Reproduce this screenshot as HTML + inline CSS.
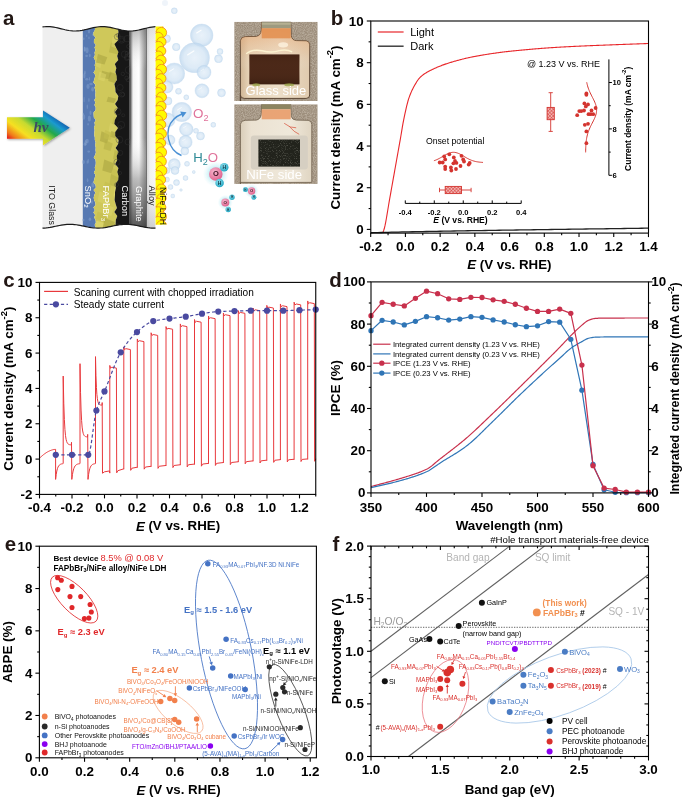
<!DOCTYPE html>
<html><head><meta charset="utf-8"><style>
html,body{margin:0;padding:0;background:#fff;}
body{width:685px;height:799px;overflow:hidden;}
svg{display:block;font-family:"Liberation Sans", sans-serif;will-change:transform;}
</style></head><body>
<svg width="685" height="799" viewBox="0 0 685 799">
<defs>
<pattern id="hatch" width="2.4" height="2.4" patternUnits="userSpaceOnUse" patternTransform="rotate(45)"><rect width="2.4" height="2.4" fill="#f2b4b2"/><line x1="0" y1="0" x2="0" y2="2.4" stroke="#d4342f" stroke-width="0.9"/><line x1="0" y1="0" x2="2.4" y2="0" stroke="#d4342f" stroke-width="0.9"/></pattern>
<linearGradient id="graphite" x1="0" x2="1" y1="0" y2="0"><stop offset="0" stop-color="#2a2a2a"/><stop offset="0.2" stop-color="#f4f4f4"/><stop offset="0.55" stop-color="#ffffff"/><stop offset="0.93" stop-color="#8a8a8a"/><stop offset="1" stop-color="#a0a0a0"/></linearGradient>
<linearGradient id="graphiteV" gradientUnits="userSpaceOnUse" x1="0" x2="0" y1="25" y2="230"><stop offset="0" stop-color="#6a6a6a" stop-opacity="0.55"/><stop offset="0.22" stop-color="#ffffff" stop-opacity="0"/><stop offset="0.55" stop-color="#ffffff" stop-opacity="0"/><stop offset="0.75" stop-color="#8a8a8a" stop-opacity="0.55"/><stop offset="1" stop-color="#3a3a3a" stop-opacity="0.9"/></linearGradient>
<linearGradient id="alloy" x1="0" x2="1" y1="0" y2="0"><stop offset="0" stop-color="#d6d6d6"/><stop offset="0.35" stop-color="#f2f2f2"/><stop offset="1" stop-color="#f8f8f8"/></linearGradient>
<linearGradient id="rainbow" gradientUnits="userSpaceOnUse" x1="7" y1="138.7" x2="41.8" y2="92.3"><stop offset="0" stop-color="#e3101a"/><stop offset="0.1" stop-color="#f07a1c"/><stop offset="0.25" stop-color="#f6e021"/><stop offset="0.4" stop-color="#c6da30"/><stop offset="0.55" stop-color="#22a84a"/><stop offset="0.7" stop-color="#1a9ad0"/><stop offset="0.8" stop-color="#1062b0"/><stop offset="1" stop-color="#0a3f85"/></linearGradient>
<radialGradient id="bubble" cx="0.5" cy="0.5" r="0.5"><stop offset="0" stop-color="#e4eff9"/><stop offset="0.7" stop-color="#d5e6f5"/><stop offset="1" stop-color="#bcd6ee"/></radialGradient>
<radialGradient id="glow" cx="0.5" cy="0.5" r="0.5"><stop offset="0.4" stop-color="#9fe4ef" stop-opacity="0.7"/><stop offset="1" stop-color="#c8f0f6" stop-opacity="0"/></radialGradient>
<radialGradient id="opink" cx="0.4" cy="0.35" r="0.65"><stop offset="0" stop-color="#f8b8d0"/><stop offset="1" stop-color="#e0638e"/></radialGradient>
<radialGradient id="hcyan" cx="0.4" cy="0.35" r="0.65"><stop offset="0" stop-color="#8fe0ee"/><stop offset="1" stop-color="#24a8c4"/></radialGradient>
<linearGradient id="epoxy1" x1="0" x2="1" y1="0" y2="0"><stop offset="0" stop-color="#cfb595"/><stop offset="0.12" stop-color="#e6d2b6"/><stop offset="0.55" stop-color="#eddfc9"/><stop offset="1" stop-color="#e0caae"/></linearGradient>
<linearGradient id="epoxy2" x1="0" x2="1" y1="0" y2="0"><stop offset="0" stop-color="#d9cdb8"/><stop offset="0.15" stop-color="#ebe2d2"/><stop offset="0.7" stop-color="#efe8da"/><stop offset="1" stop-color="#e0d5c2"/></linearGradient>
<linearGradient id="brownV" x1="0" x2="0" y1="0" y2="1"><stop offset="0" stop-color="#3a1c0e" stop-opacity="0.4"/><stop offset="0.5" stop-color="#5a341e" stop-opacity="0"/><stop offset="1" stop-color="#2a140a" stop-opacity="0.4"/></linearGradient>
<filter id="noise" x="0" y="0" width="1" height="1"><feTurbulence type="fractalNoise" baseFrequency="0.9" numOctaves="2" seed="3"/><feColorMatrix type="matrix" values="0 0 0 0 0.78  0 0 0 0 0.72  0 0 0 0 0.62  0 0 0 1.6 -0.5"/><feComposite in2="SourceGraphic" operator="in"/></filter>
<filter id="noise2" x="0" y="0" width="1" height="1"><feTurbulence type="fractalNoise" baseFrequency="1.4" numOctaves="1" seed="5"/><feColorMatrix type="matrix" values="0 0 0 0 0.75  0 0 0 0 0.75  0 0 0 0 0.65  0 0 0 3 -1.6"/><feComposite in2="SourceGraphic" operator="in"/></filter>
<filter id="shadow" x="-0.2" y="-0.2" width="1.4" height="1.4"><feDropShadow dx="0.8" dy="1" stdDeviation="0.8" flood-color="#000" flood-opacity="0.35"/></filter>
<linearGradient id="peachV" gradientUnits="objectBoundingBox" x1="0" x2="0" y1="0" y2="1"><stop offset="0.1" stop-color="#e49a62" stop-opacity="0.55"/><stop offset="0.4" stop-color="#e8b080" stop-opacity="0.15"/><stop offset="0.6" stop-color="#ffffff" stop-opacity="0"/></linearGradient>
<linearGradient id="alloyV" gradientUnits="userSpaceOnUse" x1="0" x2="0" y1="25" y2="230"><stop offset="0" stop-color="#909090" stop-opacity="0.25"/><stop offset="0.2" stop-color="#ffffff" stop-opacity="0"/><stop offset="0.7" stop-color="#ffffff" stop-opacity="0"/><stop offset="1" stop-color="#808080" stop-opacity="0.35"/></linearGradient>
</defs>
<text x="3.00" y="24.80" font-size="20.5" fill="#231815" text-anchor="start" font-weight="bold" dominant-baseline="auto" >a</text>
<clipPath id="stack"><path d="M42.50,26.95 L44.38,26.74 L46.27,26.62 L48.15,26.61 L50.03,26.69 L51.92,26.87 L53.80,27.15 L55.68,27.49 L57.57,27.90 L59.45,28.35 L61.33,28.82 L63.22,29.29 L65.10,29.74 L66.98,30.14 L68.87,30.48 L70.75,30.75 L72.63,30.92 L74.52,31.00 L76.40,30.97 L78.28,30.85 L80.17,30.63 L82.05,30.32 L83.93,29.95 L85.82,29.52 L87.70,29.06 L89.58,28.59 L91.47,28.13 L93.35,27.70 L95.23,27.32 L97.12,27.00 L99.00,26.77 L100.88,26.64 L102.77,26.60 L104.65,26.67 L106.53,26.83 L108.42,27.08 L110.30,27.42 L112.18,27.81 L114.07,28.26 L115.95,28.72 L117.83,29.20 L119.72,29.65 L121.60,30.06 L123.48,30.42 L125.37,30.70 L127.25,30.89 L129.13,30.99 L131.02,30.99 L132.90,30.88 L134.78,30.68 L136.67,30.39 L138.55,30.03 L140.43,29.61 L142.32,29.16 L144.20,28.69 L146.08,28.22 L147.97,27.78 L149.85,27.39 L151.73,27.06 L153.62,26.81 L155.50,26.66 L155.50,228.07 L153.62,228.10 L151.73,228.04 L149.85,227.90 L147.97,227.68 L146.08,227.40 L144.20,227.06 L142.32,226.69 L140.43,226.29 L138.55,225.89 L136.67,225.51 L134.78,225.15 L132.90,224.84 L131.02,224.59 L129.13,224.42 L127.25,224.32 L125.37,224.30 L123.48,224.38 L121.60,224.53 L119.72,224.75 L117.83,225.04 L115.95,225.39 L114.07,225.76 L112.18,226.16 L110.30,226.56 L108.42,226.94 L106.53,227.29 L104.65,227.60 L102.77,227.83 L100.88,228.00 L99.00,228.09 L97.12,228.09 L95.23,228.01 L93.35,227.85 L91.47,227.61 L89.58,227.31 L87.70,226.97 L85.82,226.58 L83.93,226.19 L82.05,225.79 L80.17,225.41 L78.28,225.06 L76.40,224.77 L74.52,224.54 L72.63,224.38 L70.75,224.31 L68.87,224.32 L66.98,224.41 L65.10,224.58 L63.22,224.82 L61.33,225.13 L59.45,225.48 L57.57,225.87 L55.68,226.27 L53.80,226.66 L51.92,227.04 L50.03,227.38 L48.15,227.67 L46.27,227.89 L44.38,228.03 L42.50,228.10 Z"/></clipPath>
<g clip-path="url(#stack)">
<rect x="42" y="20" width="42" height="215" fill="#efefef"/>
<path d="M82.8,20 L93.92,20.00 L94.71,22.50 L94.26,25.00 L94.87,27.50 L94.93,30.00 L93.47,32.50 L93.33,35.00 L95.48,37.50 L93.97,40.00 L93.91,42.50 L95.89,45.00 L94.52,47.50 L95.47,50.00 L94.54,52.50 L94.96,55.00 L93.69,57.50 L94.95,60.00 L95.56,62.50 L94.66,65.00 L95.23,67.50 L95.05,70.00 L93.47,72.50 L95.27,75.00 L94.84,77.50 L94.08,80.00 L93.38,82.50 L95.55,85.00 L94.53,87.50 L95.17,90.00 L95.58,92.50 L95.16,95.00 L95.69,97.50 L94.33,100.00 L95.38,102.50 L94.46,105.00 L95.73,107.50 L95.59,110.00 L93.55,112.50 L93.65,115.00 L93.86,117.50 L95.81,120.00 L94.43,122.50 L94.93,125.00 L94.08,127.50 L94.62,130.00 L94.30,132.50 L94.21,135.00 L94.82,137.50 L94.82,140.00 L95.65,142.50 L95.07,145.00 L95.72,147.50 L95.53,150.00 L95.88,152.50 L95.05,155.00 L93.72,157.50 L95.54,160.00 L95.81,162.50 L95.65,165.00 L94.78,167.50 L95.16,170.00 L93.85,172.50 L95.46,175.00 L94.79,177.50 L94.04,180.00 L93.46,182.50 L95.52,185.00 L95.87,187.50 L93.53,190.00 L95.38,192.50 L94.37,195.00 L93.69,197.50 L94.06,200.00 L95.30,202.50 L95.57,205.00 L93.41,207.50 L94.90,210.00 L93.42,212.50 L95.17,215.00 L94.16,217.50 L95.59,220.00 L95.85,222.50 L94.61,225.00 L95.90,227.50 L94.11,230.00 L93.50,232.50 L94.86,235.00 L82.8,235 Z" fill="#5779b2"/>
<ellipse cx="86.6" cy="55.9" rx="1.4" ry="1.1" fill="#8aa6d0" opacity="0.45"/>
<ellipse cx="88.9" cy="100.0" rx="0.7" ry="2.0" fill="#8aa6d0" opacity="0.45"/>
<ellipse cx="83.4" cy="113.9" rx="0.7" ry="1.2" fill="#8aa6d0" opacity="0.45"/>
<ellipse cx="87.7" cy="194.5" rx="0.7" ry="1.4" fill="#8aa6d0" opacity="0.45"/>
<ellipse cx="89.9" cy="219.3" rx="1.3" ry="1.8" fill="#8aa6d0" opacity="0.45"/>
<ellipse cx="93.7" cy="34.5" rx="1.6" ry="1.6" fill="#8aa6d0" opacity="0.45"/>
<ellipse cx="84.6" cy="49.1" rx="1.0" ry="2.6" fill="#8aa6d0" opacity="0.45"/>
<ellipse cx="85.0" cy="144.2" rx="1.4" ry="1.7" fill="#8aa6d0" opacity="0.45"/>
<ellipse cx="89.0" cy="37.9" rx="0.7" ry="1.4" fill="#8aa6d0" opacity="0.45"/>
<ellipse cx="90.5" cy="112.7" rx="1.0" ry="2.2" fill="#8aa6d0" opacity="0.45"/>
<ellipse cx="88.0" cy="86.5" rx="1.6" ry="2.4" fill="#8aa6d0" opacity="0.45"/>
<ellipse cx="85.7" cy="142.8" rx="1.2" ry="2.8" fill="#8aa6d0" opacity="0.45"/>
<ellipse cx="91.0" cy="84.0" rx="1.8" ry="1.2" fill="#8aa6d0" opacity="0.45"/>
<ellipse cx="87.6" cy="180.2" rx="0.8" ry="2.0" fill="#8aa6d0" opacity="0.45"/>
<ellipse cx="83.4" cy="162.0" rx="1.5" ry="2.1" fill="#8aa6d0" opacity="0.45"/>
<ellipse cx="92.6" cy="89.3" rx="1.4" ry="2.2" fill="#8aa6d0" opacity="0.45"/>
<ellipse cx="89.4" cy="118.5" rx="1.6" ry="2.9" fill="#8aa6d0" opacity="0.45"/>
<ellipse cx="88.2" cy="161.2" rx="0.7" ry="2.4" fill="#8aa6d0" opacity="0.45"/>
<ellipse cx="90.1" cy="228.6" rx="1.6" ry="1.6" fill="#8aa6d0" opacity="0.45"/>
<ellipse cx="87.2" cy="162.1" rx="0.6" ry="1.9" fill="#8aa6d0" opacity="0.45"/>
<ellipse cx="84.8" cy="49.0" rx="0.7" ry="2.5" fill="#8aa6d0" opacity="0.45"/>
<ellipse cx="84.4" cy="75.8" rx="1.1" ry="2.7" fill="#8aa6d0" opacity="0.45"/>
<ellipse cx="83.9" cy="117.1" rx="1.3" ry="2.8" fill="#8aa6d0" opacity="0.45"/>
<ellipse cx="92.0" cy="202.1" rx="0.9" ry="1.8" fill="#8aa6d0" opacity="0.45"/>
<ellipse cx="86.9" cy="206.3" rx="1.7" ry="1.3" fill="#8aa6d0" opacity="0.45"/>
<ellipse cx="84.9" cy="72.6" rx="0.9" ry="2.0" fill="#8aa6d0" opacity="0.45"/>
<ellipse cx="89.5" cy="78.9" rx="0.6" ry="1.8" fill="#8aa6d0" opacity="0.45"/>
<ellipse cx="87.1" cy="141.1" rx="1.7" ry="2.4" fill="#8aa6d0" opacity="0.45"/>
<ellipse cx="88.7" cy="151.6" rx="1.4" ry="1.1" fill="#8aa6d0" opacity="0.45"/>
<ellipse cx="92.9" cy="184.9" rx="1.6" ry="2.6" fill="#8aa6d0" opacity="0.45"/>
<ellipse cx="87.3" cy="106.8" rx="0.7" ry="2.3" fill="#8aa6d0" opacity="0.45"/>
<ellipse cx="83.7" cy="38.8" rx="0.9" ry="1.3" fill="#8aa6d0" opacity="0.45"/>
<ellipse cx="86.7" cy="35.8" rx="0.6" ry="1.3" fill="#8aa6d0" opacity="0.45"/>
<ellipse cx="84.1" cy="99.5" rx="0.6" ry="2.7" fill="#8aa6d0" opacity="0.45"/>
<ellipse cx="89.8" cy="55.5" rx="0.9" ry="1.7" fill="#8aa6d0" opacity="0.45"/>
<ellipse cx="87.0" cy="50.2" rx="1.6" ry="3.0" fill="#8aa6d0" opacity="0.45"/>
<ellipse cx="88.1" cy="124.2" rx="0.7" ry="1.2" fill="#8aa6d0" opacity="0.45"/>
<ellipse cx="86.8" cy="79.3" rx="1.6" ry="1.3" fill="#8aa6d0" opacity="0.45"/>
<ellipse cx="83.3" cy="220.0" rx="1.2" ry="1.3" fill="#8aa6d0" opacity="0.45"/>
<ellipse cx="89.0" cy="30.5" rx="1.2" ry="3.0" fill="#8aa6d0" opacity="0.45"/>
<path d="M93.92,20.00 L94.71,22.50 L94.26,25.00 L94.87,27.50 L94.93,30.00 L93.47,32.50 L93.33,35.00 L95.48,37.50 L93.97,40.00 L93.91,42.50 L95.89,45.00 L94.52,47.50 L95.47,50.00 L94.54,52.50 L94.96,55.00 L93.69,57.50 L94.95,60.00 L95.56,62.50 L94.66,65.00 L95.23,67.50 L95.05,70.00 L93.47,72.50 L95.27,75.00 L94.84,77.50 L94.08,80.00 L93.38,82.50 L95.55,85.00 L94.53,87.50 L95.17,90.00 L95.58,92.50 L95.16,95.00 L95.69,97.50 L94.33,100.00 L95.38,102.50 L94.46,105.00 L95.73,107.50 L95.59,110.00 L93.55,112.50 L93.65,115.00 L93.86,117.50 L95.81,120.00 L94.43,122.50 L94.93,125.00 L94.08,127.50 L94.62,130.00 L94.30,132.50 L94.21,135.00 L94.82,137.50 L94.82,140.00 L95.65,142.50 L95.07,145.00 L95.72,147.50 L95.53,150.00 L95.88,152.50 L95.05,155.00 L93.72,157.50 L95.54,160.00 L95.81,162.50 L95.65,165.00 L94.78,167.50 L95.16,170.00 L93.85,172.50 L95.46,175.00 L94.79,177.50 L94.04,180.00 L93.46,182.50 L95.52,185.00 L95.87,187.50 L93.53,190.00 L95.38,192.50 L94.37,195.00 L93.69,197.50 L94.06,200.00 L95.30,202.50 L95.57,205.00 L93.41,207.50 L94.90,210.00 L93.42,212.50 L95.17,215.00 L94.16,217.50 L95.59,220.00 L95.85,222.50 L94.61,225.00 L95.90,227.50 L94.11,230.00 L93.50,232.50 L94.86,235.00 L116.42,232.00 L117.90,228.00 L115.66,224.00 L115.79,220.00 L117.28,216.00 L114.31,212.00 L116.95,208.00 L115.63,204.00 L114.59,200.00 L114.94,196.00 L115.03,192.00 L115.89,188.00 L115.61,184.00 L118.23,180.00 L118.55,176.00 L117.34,172.00 L118.44,168.00 L115.20,164.00 L117.28,160.00 L116.67,156.00 L118.53,152.00 L115.57,148.00 L118.14,144.00 L118.62,140.00 L115.25,136.00 L115.22,132.00 L118.13,128.00 L114.31,124.00 L114.86,120.00 L117.02,116.00 L114.91,112.00 L117.81,108.00 L115.00,104.00 L117.67,100.00 L118.33,96.00 L115.53,92.00 L115.25,88.00 L114.36,84.00 L116.83,80.00 L116.69,76.00 L115.38,72.00 L116.36,68.00 L114.80,64.00 L118.26,60.00 L117.16,56.00 L118.45,52.00 L116.35,48.00 L114.43,44.00 L118.36,40.00 L117.56,36.00 L118.45,32.00 L117.80,28.00 L117.56,24.00 L117.04,20.00 Z" fill="#cfc85a"/>
<polygon points="112.3,167.7 120.4,171.7 117.9,181.0 110.6,178.3" fill="#c2bb4d" opacity="0.55"/>
<polygon points="102.1,70.7 111.8,73.3 108.9,79.3 100.2,77.6" fill="#a8a240" opacity="0.55"/>
<polygon points="99.5,191.4 109.3,195.1 106.3,203.9 97.5,201.4" fill="#ddd56c" opacity="0.55"/>
<polygon points="109.8,71.5 117.8,75.0 115.4,83.3 108.2,81.0" fill="#a8a240" opacity="0.55"/>
<polygon points="114.8,187.0 121.3,190.4 119.4,198.5 113.5,196.2" fill="#e4dc78" opacity="0.55"/>
<polygon points="114.1,116.7 124.9,119.4 121.6,125.6 112.0,123.8" fill="#c2bb4d" opacity="0.55"/>
<polygon points="99.4,71.5 106.4,74.5 104.3,81.4 98.0,79.4" fill="#ddd56c" opacity="0.55"/>
<polygon points="114.7,150.1 122.6,153.5 120.2,161.3 113.1,159.1" fill="#b5ae45" opacity="0.55"/>
<polygon points="111.0,42.4 121.5,46.1 118.3,54.6 108.9,52.2" fill="#b5ae45" opacity="0.55"/>
<polygon points="110.0,123.0 117.6,126.3 115.3,134.1 108.5,131.9" fill="#ddd56c" opacity="0.55"/>
<polygon points="96.7,219.0 104.5,222.5 102.2,230.9 95.2,228.5" fill="#e4dc78" opacity="0.55"/>
<polygon points="96.7,57.6 101.9,60.8 100.3,68.3 95.7,66.1" fill="#ddd56c" opacity="0.55"/>
<polygon points="104.3,159.5 114.3,163.6 111.3,173.3 102.3,170.5" fill="#a8a240" opacity="0.55"/>
<polygon points="108.1,96.8 116.4,98.7 113.9,103.0 106.5,101.8" fill="#a8a240" opacity="0.55"/>
<polygon points="111.0,173.9 119.1,177.9 116.7,187.4 109.4,184.7" fill="#b5ae45" opacity="0.55"/>
<polygon points="103.7,203.7 108.8,206.0 107.3,211.4 102.6,209.9" fill="#ddd56c" opacity="0.55"/>
<polygon points="105.0,181.6 111.6,184.4 109.6,190.9 103.7,189.0" fill="#c2bb4d" opacity="0.55"/>
<polygon points="97.6,211.6 108.0,214.9 104.9,222.9 95.5,220.6" fill="#c2bb4d" opacity="0.55"/>
<polygon points="111.3,130.9 117.1,133.1 115.4,138.2 110.1,136.7" fill="#a8a240" opacity="0.55"/>
<polygon points="105.2,203.9 113.9,207.6 111.3,216.1 103.5,213.7" fill="#ddd56c" opacity="0.55"/>
<polygon points="98.0,54.0 107.3,57.2 104.5,64.5 96.1,62.4" fill="#a8a240" opacity="0.55"/>
<polygon points="101.5,131.3 109.4,134.9 107.0,143.5 99.9,141.0" fill="#a8a240" opacity="0.55"/>
<polygon points="112.7,36.6 119.3,40.3 117.3,48.8 111.3,46.4" fill="#ddd56c" opacity="0.55"/>
<polygon points="105.2,140.2 112.8,143.4 110.5,151.1 103.6,148.9" fill="#b5ae45" opacity="0.55"/>
<polygon points="105.1,130.0 112.8,133.1 110.5,140.3 103.6,138.2" fill="#c2bb4d" opacity="0.55"/>
<polygon points="104.6,218.0 114.8,222.1 111.7,231.5 102.5,228.8" fill="#a8a240" opacity="0.55"/>
<path d="M117.04,20.00 L117.56,24.00 L117.80,28.00 L118.45,32.00 L117.56,36.00 L118.36,40.00 L114.43,44.00 L116.35,48.00 L118.45,52.00 L117.16,56.00 L118.26,60.00 L114.80,64.00 L116.36,68.00 L115.38,72.00 L116.69,76.00 L116.83,80.00 L114.36,84.00 L115.25,88.00 L115.53,92.00 L118.33,96.00 L117.67,100.00 L115.00,104.00 L117.81,108.00 L114.91,112.00 L117.02,116.00 L114.86,120.00 L114.31,124.00 L118.13,128.00 L115.22,132.00 L115.25,136.00 L118.62,140.00 L118.14,144.00 L115.57,148.00 L118.53,152.00 L116.67,156.00 L117.28,160.00 L115.20,164.00 L118.44,168.00 L117.34,172.00 L118.55,176.00 L118.23,180.00 L115.61,184.00 L115.89,188.00 L115.03,192.00 L114.94,196.00 L114.59,200.00 L115.63,204.00 L116.95,208.00 L114.31,212.00 L117.28,216.00 L115.79,220.00 L115.66,224.00 L117.90,228.00 L116.42,232.00 L129.6,235 L129.6,20 Z" fill="#171717"/>
<circle cx="119.4" cy="139.7" r="3.4" fill="none" stroke="#3a3a3a" stroke-width="0.5" opacity="0.7"/>
<circle cx="126.9" cy="53.1" r="1.7" fill="none" stroke="#3a3a3a" stroke-width="0.5" opacity="0.7"/>
<circle cx="121.7" cy="39.9" r="2.0" fill="none" stroke="#3a3a3a" stroke-width="0.5" opacity="0.7"/>
<circle cx="117.0" cy="162.2" r="3.1" fill="none" stroke="#3a3a3a" stroke-width="0.5" opacity="0.7"/>
<circle cx="127.7" cy="56.7" r="2.9" fill="none" stroke="#3a3a3a" stroke-width="0.5" opacity="0.7"/>
<circle cx="124.6" cy="54.3" r="3.3" fill="none" stroke="#3a3a3a" stroke-width="0.5" opacity="0.7"/>
<circle cx="128.6" cy="70.0" r="3.4" fill="none" stroke="#3a3a3a" stroke-width="0.5" opacity="0.7"/>
<circle cx="121.2" cy="124.9" r="3.5" fill="none" stroke="#3a3a3a" stroke-width="0.5" opacity="0.7"/>
<circle cx="126.8" cy="58.1" r="2.4" fill="none" stroke="#3a3a3a" stroke-width="0.5" opacity="0.7"/>
<circle cx="122.7" cy="94.5" r="1.9" fill="none" stroke="#3a3a3a" stroke-width="0.5" opacity="0.7"/>
<circle cx="120.1" cy="173.0" r="1.5" fill="none" stroke="#3a3a3a" stroke-width="0.5" opacity="0.7"/>
<circle cx="123.2" cy="115.3" r="1.5" fill="none" stroke="#3a3a3a" stroke-width="0.5" opacity="0.7"/>
<circle cx="120.3" cy="152.9" r="2.5" fill="none" stroke="#3a3a3a" stroke-width="0.5" opacity="0.7"/>
<circle cx="116.8" cy="226.9" r="3.1" fill="none" stroke="#3a3a3a" stroke-width="0.5" opacity="0.7"/>
<circle cx="128.6" cy="46.5" r="2.0" fill="none" stroke="#3a3a3a" stroke-width="0.5" opacity="0.7"/>
<circle cx="116.5" cy="184.7" r="2.0" fill="none" stroke="#3a3a3a" stroke-width="0.5" opacity="0.7"/>
<circle cx="117.7" cy="111.6" r="3.3" fill="none" stroke="#3a3a3a" stroke-width="0.5" opacity="0.7"/>
<circle cx="126.6" cy="78.0" r="1.8" fill="none" stroke="#3a3a3a" stroke-width="0.5" opacity="0.7"/>
<circle cx="127.9" cy="142.0" r="2.9" fill="none" stroke="#3a3a3a" stroke-width="0.5" opacity="0.7"/>
<circle cx="117.2" cy="36.8" r="2.9" fill="none" stroke="#3a3a3a" stroke-width="0.5" opacity="0.7"/>
<circle cx="121.5" cy="39.8" r="3.4" fill="none" stroke="#3a3a3a" stroke-width="0.5" opacity="0.7"/>
<circle cx="124.2" cy="189.3" r="1.7" fill="none" stroke="#3a3a3a" stroke-width="0.5" opacity="0.7"/>
<circle cx="127.1" cy="38.7" r="3.2" fill="none" stroke="#3a3a3a" stroke-width="0.5" opacity="0.7"/>
<circle cx="121.9" cy="94.5" r="2.6" fill="none" stroke="#3a3a3a" stroke-width="0.5" opacity="0.7"/>
<circle cx="128.0" cy="79.9" r="1.8" fill="none" stroke="#3a3a3a" stroke-width="0.5" opacity="0.7"/>
<circle cx="122.8" cy="73.9" r="1.7" fill="none" stroke="#3a3a3a" stroke-width="0.5" opacity="0.7"/>
<circle cx="118.1" cy="35.3" r="1.9" fill="none" stroke="#3a3a3a" stroke-width="0.5" opacity="0.7"/>
<circle cx="120.1" cy="87.5" r="3.0" fill="none" stroke="#3a3a3a" stroke-width="0.5" opacity="0.7"/>
<circle cx="119.8" cy="127.5" r="1.9" fill="none" stroke="#3a3a3a" stroke-width="0.5" opacity="0.7"/>
<circle cx="120.5" cy="28.7" r="2.0" fill="none" stroke="#3a3a3a" stroke-width="0.5" opacity="0.7"/>
<rect x="129.6" y="20" width="17" height="215" fill="url(#graphite)"/>
<rect x="129.6" y="20" width="17" height="215" fill="url(#graphiteV)"/>
<rect x="146.3" y="20" width="0.8" height="215" fill="#555"/>
<rect x="147.1" y="20" width="8.6" height="215" fill="url(#alloy)"/>
<rect x="147.1" y="20" width="8.6" height="215" fill="url(#alloyV)"/>
</g>
<polyline points="42.50,26.95 44.38,26.74 46.27,26.62 48.15,26.61 50.03,26.69 51.92,26.87 53.80,27.15 55.68,27.49 57.57,27.90 59.45,28.35 61.33,28.82 63.22,29.29 65.10,29.74 66.98,30.14 68.87,30.48 70.75,30.75 72.63,30.92 74.52,31.00 76.40,30.97 78.28,30.85 80.17,30.63 82.05,30.32 83.93,29.95 85.82,29.52 87.70,29.06 89.58,28.59 91.47,28.13 93.35,27.70 95.23,27.32 97.12,27.00 99.00,26.77 100.88,26.64 102.77,26.60 104.65,26.67 106.53,26.83 108.42,27.08 110.30,27.42 112.18,27.81 114.07,28.26 115.95,28.72 117.83,29.20 119.72,29.65 121.60,30.06 123.48,30.42 125.37,30.70 127.25,30.89 129.13,30.99 131.02,30.99 132.90,30.88 134.78,30.68 136.67,30.39 138.55,30.03 140.43,29.61 142.32,29.16 144.20,28.69 146.08,28.22 147.97,27.78 149.85,27.39 151.73,27.06 153.62,26.81 155.50,26.66" fill="none" stroke="#1a1a1a" stroke-width="1.2" stroke-linejoin="round" />
<polyline points="42.50,228.10 44.38,228.03 46.27,227.89 48.15,227.67 50.03,227.38 51.92,227.04 53.80,226.66 55.68,226.27 57.57,225.87 59.45,225.48 61.33,225.13 63.22,224.82 65.10,224.58 66.98,224.41 68.87,224.32 70.75,224.31 72.63,224.38 74.52,224.54 76.40,224.77 78.28,225.06 80.17,225.41 82.05,225.79 83.93,226.19 85.82,226.58 87.70,226.97 89.58,227.31 91.47,227.61 93.35,227.85 95.23,228.01 97.12,228.09 99.00,228.09 100.88,228.00 102.77,227.83 104.65,227.60 106.53,227.29 108.42,226.94 110.30,226.56 112.18,226.16 114.07,225.76 115.95,225.39 117.83,225.04 119.72,224.75 121.60,224.53 123.48,224.38 125.37,224.30 127.25,224.32 129.13,224.42 131.02,224.59 132.90,224.84 134.78,225.15 136.67,225.51 138.55,225.89 140.43,226.29 142.32,226.69 144.20,227.06 146.08,227.40 147.97,227.68 149.85,227.90 151.73,228.04 153.62,228.10 155.50,228.07" fill="none" stroke="#1a1a1a" stroke-width="1.2" stroke-linejoin="round" />
<text x="52.4" y="185.2" font-size="8.9" fill="#222" dominant-baseline="central" transform="rotate(90 52.4 185.2)">ITO Glass</text>
<text x="88.2" y="185.6" font-size="9.3" fill="#ffffff" dominant-baseline="central" transform="rotate(90 88.2 185.6)">SnO<tspan dy="2.60" font-size="6.05">2</tspan><tspan dy="-2.60">​</tspan></text>
<text x="105.6" y="185.6" font-size="9.3" fill="#ffffff" dominant-baseline="central" transform="rotate(90 105.6 185.6)">FAPbBr<tspan dy="2.60" font-size="6.05">3</tspan><tspan dy="-2.60">​</tspan></text>
<text x="125.3" y="185.6" font-size="9.3" fill="#ffffff" dominant-baseline="central" transform="rotate(90 125.3 185.6)">Carbon</text>
<text x="138.6" y="186.0" font-size="9.3" fill="#ffffff" dominant-baseline="central" transform="rotate(90 138.6 186.0)">Graphite</text>
<text x="151.8" y="185.6" font-size="9.3" fill="#222" dominant-baseline="central" transform="rotate(90 151.8 185.6)">Alloy</text>
<circle cx="165" cy="3" r="3" fill="#dfeaf5" opacity="0.5"/>
<circle cx="201.7" cy="35.3" r="11.3" fill="url(#bubble)" stroke="#bcd5ec" stroke-width="0.4" opacity="0.8"/>
<path d="M196.6,33.0 L201.1,30.2" stroke="#ffffff" stroke-width="1.02" stroke-linecap="round" opacity="0.9"/>
<circle cx="194.5" cy="57.8" r="15" fill="url(#bubble)" stroke="#bcd5ec" stroke-width="0.4" opacity="0.8"/>
<path d="M187.8,54.8 L193.8,51.0" stroke="#ffffff" stroke-width="1.35" stroke-linecap="round" opacity="0.9"/>
<circle cx="174.3" cy="73.5" r="10.5" fill="url(#bubble)" stroke="#bcd5ec" stroke-width="0.4" opacity="0.8"/>
<path d="M169.6,71.4 L173.8,68.8" stroke="#ffffff" stroke-width="0.94" stroke-linecap="round" opacity="0.9"/>
<circle cx="204" cy="72.3" r="7" fill="url(#bubble)" stroke="#bcd5ec" stroke-width="0.4" opacity="0.8"/>
<path d="M200.8,70.9 L203.7,69.1" stroke="#ffffff" stroke-width="0.63" stroke-linecap="round" opacity="0.9"/>
<circle cx="176.2" cy="47" r="3.8" fill="url(#bubble)" stroke="#bcd5ec" stroke-width="0.4" opacity="0.8"/>
<circle cx="220" cy="51.5" r="3" fill="url(#bubble)" stroke="#bcd5ec" stroke-width="0.4" opacity="0.8"/>
<circle cx="218.5" cy="58.8" r="4" fill="url(#bubble)" stroke="#bcd5ec" stroke-width="0.4" opacity="0.8"/>
<circle cx="174.3" cy="10.8" r="3" fill="url(#bubble)" stroke="#bcd5ec" stroke-width="0.4" opacity="0.8"/>
<circle cx="202" cy="90.8" r="7" fill="url(#bubble)" stroke="#bcd5ec" stroke-width="0.4" opacity="0.8"/>
<path d="M198.8,89.4 L201.7,87.6" stroke="#ffffff" stroke-width="0.63" stroke-linecap="round" opacity="0.9"/>
<circle cx="221.5" cy="92.8" r="4" fill="url(#bubble)" stroke="#bcd5ec" stroke-width="0.4" opacity="0.8"/>
<circle cx="178.5" cy="91.3" r="3" fill="url(#bubble)" stroke="#bcd5ec" stroke-width="0.4" opacity="0.8"/>
<circle cx="186.3" cy="97.3" r="2.5" fill="url(#bubble)" stroke="#bcd5ec" stroke-width="0.4" opacity="0.8"/>
<circle cx="181.8" cy="112" r="9.8" fill="url(#bubble)" stroke="#bcd5ec" stroke-width="0.4" opacity="0.8"/>
<path d="M177.4,110.0 L181.3,107.6" stroke="#ffffff" stroke-width="0.88" stroke-linecap="round" opacity="0.9"/>
<circle cx="166.5" cy="38.7" r="4" fill="url(#bubble)" stroke="#bcd5ec" stroke-width="0.4" opacity="0.8"/>
<circle cx="167" cy="87" r="6" fill="url(#bubble)" stroke="#bcd5ec" stroke-width="0.4" opacity="0.8"/>
<path d="M164.3,85.8 L166.7,84.3" stroke="#ffffff" stroke-width="0.60" stroke-linecap="round" opacity="0.9"/>
<circle cx="186.3" cy="129.3" r="6.8" fill="url(#bubble)" stroke="#bcd5ec" stroke-width="0.4" opacity="0.8"/>
<path d="M183.2,127.9 L186.0,126.2" stroke="#ffffff" stroke-width="0.61" stroke-linecap="round" opacity="0.9"/>
<circle cx="196" cy="130.8" r="2.5" fill="url(#bubble)" stroke="#bcd5ec" stroke-width="0.4" opacity="0.8"/>
<circle cx="200.5" cy="136" r="4" fill="url(#bubble)" stroke="#bcd5ec" stroke-width="0.4" opacity="0.8"/>
<circle cx="185.5" cy="142" r="6.7" fill="url(#bubble)" stroke="#bcd5ec" stroke-width="0.4" opacity="0.8"/>
<path d="M182.5,140.7 L185.2,139.0" stroke="#ffffff" stroke-width="0.60" stroke-linecap="round" opacity="0.9"/>
<circle cx="184.8" cy="151" r="4" fill="url(#bubble)" stroke="#bcd5ec" stroke-width="0.4" opacity="0.8"/>
<circle cx="213.3" cy="124.8" r="2.5" fill="url(#bubble)" stroke="#bcd5ec" stroke-width="0.4" opacity="0.8"/>
<circle cx="174.3" cy="164.6" r="6" fill="url(#bubble)" stroke="#bcd5ec" stroke-width="0.4" opacity="0.8"/>
<path d="M171.6,163.4 L174.0,161.9" stroke="#ffffff" stroke-width="0.60" stroke-linecap="round" opacity="0.9"/>
<circle cx="187" cy="163.8" r="2.5" fill="url(#bubble)" stroke="#bcd5ec" stroke-width="0.4" opacity="0.8"/>
<circle cx="167" cy="170.5" r="3" fill="url(#bubble)" stroke="#bcd5ec" stroke-width="0.4" opacity="0.8"/>
<circle cx="175" cy="170.5" r="4" fill="url(#bubble)" stroke="#bcd5ec" stroke-width="0.4" opacity="0.8"/>
<circle cx="185.5" cy="178" r="2.5" fill="url(#bubble)" stroke="#bcd5ec" stroke-width="0.4" opacity="0.8"/>
<circle cx="167" cy="179.6" r="2.5" fill="url(#bubble)" stroke="#bcd5ec" stroke-width="0.4" opacity="0.8"/>
<circle cx="176.5" cy="182.6" r="3" fill="url(#bubble)" stroke="#bcd5ec" stroke-width="0.4" opacity="0.8"/>
<circle cx="170.5" cy="187" r="2.5" fill="url(#bubble)" stroke="#bcd5ec" stroke-width="0.4" opacity="0.8"/>
<circle cx="172.8" cy="196" r="2" fill="url(#bubble)" stroke="#bcd5ec" stroke-width="0.4" opacity="0.8"/>
<circle cx="193.8" cy="172" r="1.5" fill="url(#bubble)" stroke="#bcd5ec" stroke-width="0.4" opacity="0.8"/>
<circle cx="181" cy="190" r="1.3" fill="url(#bubble)" stroke="#bcd5ec" stroke-width="0.4" opacity="0.8"/>
<circle cx="168" cy="120" r="7" fill="url(#bubble)" stroke="#bcd5ec" stroke-width="0.4" opacity="0.8"/>
<path d="M164.8,118.6 L167.7,116.8" stroke="#ffffff" stroke-width="0.63" stroke-linecap="round" opacity="0.9"/>
<circle cx="170" cy="140" r="5" fill="url(#bubble)" stroke="#bcd5ec" stroke-width="0.4" opacity="0.8"/>
<circle cx="168" cy="101" r="4" fill="url(#bubble)" stroke="#bcd5ec" stroke-width="0.4" opacity="0.8"/>
<clipPath id="ldh"><rect x="155.6" y="26.5" width="20" height="198"/></clipPath>
<g clip-path="url(#ldh)">
<circle cx="158.25" cy="28.00" r="4.86" fill="#fffa00" stroke="#f0861c" stroke-width="0.8"/>
<circle cx="161.37" cy="32.60" r="5.24" fill="#fffa00" stroke="#f0861c" stroke-width="0.8"/>
<circle cx="158.27" cy="37.20" r="4.91" fill="#fffa00" stroke="#f0861c" stroke-width="0.8"/>
<circle cx="161.41" cy="41.80" r="4.65" fill="#fffa00" stroke="#f0861c" stroke-width="0.8"/>
<circle cx="158.43" cy="46.40" r="5.0" fill="#fffa00" stroke="#f0861c" stroke-width="0.8"/>
<circle cx="161.24" cy="51.00" r="4.58" fill="#fffa00" stroke="#f0861c" stroke-width="0.8"/>
<circle cx="158.45" cy="55.60" r="4.57" fill="#fffa00" stroke="#f0861c" stroke-width="0.8"/>
<circle cx="161.03" cy="60.20" r="5.05" fill="#fffa00" stroke="#f0861c" stroke-width="0.8"/>
<circle cx="158.57" cy="64.80" r="5.29" fill="#fffa00" stroke="#f0861c" stroke-width="0.8"/>
<circle cx="161.49" cy="69.40" r="5.02" fill="#fffa00" stroke="#f0861c" stroke-width="0.8"/>
<circle cx="157.81" cy="74.00" r="4.63" fill="#fffa00" stroke="#f0861c" stroke-width="0.8"/>
<circle cx="161.05" cy="78.60" r="4.92" fill="#fffa00" stroke="#f0861c" stroke-width="0.8"/>
<circle cx="157.99" cy="83.20" r="4.65" fill="#fffa00" stroke="#f0861c" stroke-width="0.8"/>
<circle cx="161.37" cy="87.80" r="4.52" fill="#fffa00" stroke="#f0861c" stroke-width="0.8"/>
<circle cx="158.47" cy="92.40" r="4.85" fill="#fffa00" stroke="#f0861c" stroke-width="0.8"/>
<circle cx="161.51" cy="97.00" r="4.92" fill="#fffa00" stroke="#f0861c" stroke-width="0.8"/>
<circle cx="158.33" cy="101.60" r="4.9" fill="#fffa00" stroke="#f0861c" stroke-width="0.8"/>
<circle cx="161.22" cy="106.20" r="4.87" fill="#fffa00" stroke="#f0861c" stroke-width="0.8"/>
<circle cx="158.60" cy="110.80" r="5.3" fill="#fffa00" stroke="#f0861c" stroke-width="0.8"/>
<circle cx="161.57" cy="115.40" r="5.17" fill="#fffa00" stroke="#f0861c" stroke-width="0.8"/>
<circle cx="157.98" cy="120.00" r="4.75" fill="#fffa00" stroke="#f0861c" stroke-width="0.8"/>
<circle cx="161.06" cy="124.60" r="4.73" fill="#fffa00" stroke="#f0861c" stroke-width="0.8"/>
<circle cx="158.12" cy="129.20" r="5.11" fill="#fffa00" stroke="#f0861c" stroke-width="0.8"/>
<circle cx="161.31" cy="133.80" r="5.18" fill="#fffa00" stroke="#f0861c" stroke-width="0.8"/>
<circle cx="158.48" cy="138.40" r="5.27" fill="#fffa00" stroke="#f0861c" stroke-width="0.8"/>
<circle cx="161.17" cy="143.00" r="4.5" fill="#fffa00" stroke="#f0861c" stroke-width="0.8"/>
<circle cx="158.18" cy="147.60" r="5.23" fill="#fffa00" stroke="#f0861c" stroke-width="0.8"/>
<circle cx="161.32" cy="152.20" r="5.28" fill="#fffa00" stroke="#f0861c" stroke-width="0.8"/>
<circle cx="158.30" cy="156.80" r="4.56" fill="#fffa00" stroke="#f0861c" stroke-width="0.8"/>
<circle cx="161.22" cy="161.40" r="5.12" fill="#fffa00" stroke="#f0861c" stroke-width="0.8"/>
<circle cx="158.07" cy="166.00" r="4.57" fill="#fffa00" stroke="#f0861c" stroke-width="0.8"/>
<circle cx="161.61" cy="170.60" r="5.27" fill="#fffa00" stroke="#f0861c" stroke-width="0.8"/>
<circle cx="158.00" cy="175.20" r="4.59" fill="#fffa00" stroke="#f0861c" stroke-width="0.8"/>
<circle cx="161.05" cy="179.80" r="4.58" fill="#fffa00" stroke="#f0861c" stroke-width="0.8"/>
<circle cx="157.94" cy="184.40" r="5.14" fill="#fffa00" stroke="#f0861c" stroke-width="0.8"/>
<circle cx="161.36" cy="189.00" r="4.95" fill="#fffa00" stroke="#f0861c" stroke-width="0.8"/>
<circle cx="158.39" cy="193.60" r="4.65" fill="#fffa00" stroke="#f0861c" stroke-width="0.8"/>
<circle cx="161.51" cy="198.20" r="4.6" fill="#fffa00" stroke="#f0861c" stroke-width="0.8"/>
<circle cx="158.14" cy="202.80" r="4.59" fill="#fffa00" stroke="#f0861c" stroke-width="0.8"/>
<circle cx="161.22" cy="207.40" r="4.67" fill="#fffa00" stroke="#f0861c" stroke-width="0.8"/>
<circle cx="158.44" cy="212.00" r="5.28" fill="#fffa00" stroke="#f0861c" stroke-width="0.8"/>
<circle cx="161.71" cy="216.60" r="4.74" fill="#fffa00" stroke="#f0861c" stroke-width="0.8"/>
<circle cx="158.12" cy="221.20" r="4.67" fill="#fffa00" stroke="#f0861c" stroke-width="0.8"/>
<circle cx="161.51" cy="225.80" r="5.18" fill="#fffa00" stroke="#f0861c" stroke-width="0.8"/>
</g>
<text x="163.0" y="187.0" font-size="8.7" fill="#111" dominant-baseline="central" transform="rotate(90 163.0 187.0)">NiFe LDH</text>
<g filter="url(#shadow)"><polygon points="7,117.2 43,117.2 43,110.5 69.8,127.8 43,145.3 43,138.7 7,138.7" fill="url(#rainbow)"/></g>
<text x="41" y="131.5" font-family="Liberation Serif, serif" font-style="italic" font-weight="bold" font-size="15" fill="#3c4a66" text-anchor="middle">hv</text>
<text x="193" y="117.8" font-size="13.4" fill="#e0739b">O<tspan dy="3.4" font-size="9.2">2</tspan></text>
<text x="193.2" y="162" font-size="13.2" fill="#2e8a96">H<tspan dy="3.3" font-size="9">2</tspan><tspan dy="-3.3" fill="#e0739b">O</tspan></text>
<path d="M181.5,155.5 C168,150 163,130 174,119 C177,116 179.5,115 182,114" fill="none" stroke="#4a90d4" stroke-width="1.4"/>
<polygon points="186.5,112.2 180.2,111.4 182.6,117.4" fill="#4a90d4"/>
<circle cx="215.8" cy="174.0" r="12.9" fill="url(#glow)"/>
<circle cx="215.8" cy="174.0" r="6.8" fill="url(#opink)"/>
<text x="215.8" y="176.38" font-size="7.5" font-weight="bold" text-anchor="middle" fill="#3a1020">O</text>
<circle cx="224.2" cy="167.2" r="4.3" fill="url(#hcyan)"/>
<text x="224.2" y="168.83" font-size="4.9" font-weight="bold" text-anchor="middle" fill="#0a3040">H</text>
<circle cx="219.6" cy="183.0" r="4.3" fill="url(#hcyan)"/>
<text x="219.6" y="184.63" font-size="4.9" font-weight="bold" text-anchor="middle" fill="#0a3040">H</text>
<circle cx="225.3" cy="202.4" r="7.6" fill="url(#glow)"/>
<circle cx="225.3" cy="202.4" r="4.0" fill="url(#opink)"/>
<text x="225.3" y="203.80" font-size="4.4" font-weight="bold" text-anchor="middle" fill="#3a1020">O</text>
<circle cx="232.0" cy="197.3" r="2.7" fill="url(#hcyan)"/>
<text x="232.0" y="198.33" font-size="3.1" font-weight="bold" text-anchor="middle" fill="#0a3040">H</text>
<circle cx="228.2" cy="209.5" r="2.7" fill="url(#hcyan)"/>
<text x="228.2" y="210.53" font-size="3.1" font-weight="bold" text-anchor="middle" fill="#0a3040">H</text>
<circle cx="251.6" cy="191.0" r="7.0" fill="url(#glow)"/>
<circle cx="251.6" cy="191.0" r="3.7" fill="url(#opink)"/>
<text x="251.6" y="192.29" font-size="4.1" font-weight="bold" text-anchor="middle" fill="#3a1020">O</text>
<circle cx="245.4" cy="189.6" r="2.5" fill="url(#hcyan)"/>
<text x="245.4" y="190.55" font-size="2.9" font-weight="bold" text-anchor="middle" fill="#0a3040">H</text>
<circle cx="253.9" cy="197.2" r="2.5" fill="url(#hcyan)"/>
<text x="253.9" y="198.15" font-size="2.9" font-weight="bold" text-anchor="middle" fill="#0a3040">H</text>
<clipPath id="ph1"><rect x="234.2" y="21.8" width="83.5" height="79.2"/></clipPath>
<g clip-path="url(#ph1)">
<rect x="234.2" y="21.8" width="83.5" height="79.2" fill="#9c8d7b"/>
<rect x="234.2" y="21.8" width="83.5" height="79.2" fill="#c9b8a0" filter="url(#noise)" opacity="0.55"/>
<path d="M240.39999999999998,101.0 L240.39999999999998,40.8 Q240.79999999999998,37.0 245.2,36.6 L256.2,36.4 Q261.0,35.6 261.4,29.8 L261.59999999999997,21.8 L290.7,21.8 L291.2,35.8 Q292.2,40.400000000000006 296.2,40.6 L306.2,40.8 Q309.7,41.3 309.7,44.8 L309.7,95.0 Q309.7,98.4 306.2,98.4 L244.2,98.4 Q240.39999999999998,98.4 240.39999999999998,95.0 Z" fill="url(#epoxy1)" stroke="#5b4634" stroke-width="1.0"/>
<path d="M240.39999999999998,101.0 L240.39999999999998,40.8 Q240.79999999999998,37.0 245.2,36.6 L256.2,36.4 Q261.0,35.6 261.4,29.8 L261.59999999999997,21.8 L290.7,21.8 L291.2,35.8 Q292.2,40.400000000000006 296.2,40.6 L306.2,40.8 Q309.7,41.3 309.7,44.8 L309.7,95.0 Q309.7,98.4 306.2,98.4 L244.2,98.4 Q240.39999999999998,98.4 240.39999999999998,95.0 Z" fill="url(#peachV)"/>
<rect x="261.7" y="21.8" width="29" height="6.5" fill="#9d9a80"/>
<rect x="261.7" y="23.3" width="29" height="1.2" fill="#c9c3a0" opacity="0.8"/>
<rect x="261.7" y="28.3" width="29" height="10" fill="#e39152" opacity="0.9"/>
<ellipse cx="283.2" cy="44.8" rx="5" ry="2.6" fill="#fbf0dc" opacity="0.85"/>
<rect x="249.39999999999998" y="54.5" width="50" height="29.8" fill="#4b2818"/>
<rect x="249.39999999999998" y="54.5" width="50" height="29.8" fill="url(#brownV)"/>
<path d="M246.2,53.8 Q252.2,48.8 262.2,50.8 Q272.2,53.3 279.2,50.6 Q286.2,48.8 292.2,51.8" fill="none" stroke="#fbf2d0" stroke-width="1.4"/>
<ellipse cx="256.2" cy="84.8" rx="4" ry="1.5" fill="#9aa24a" opacity="0.8"/>
<ellipse cx="289.2" cy="84.8" rx="5" ry="1.5" fill="#9aa24a" opacity="0.8"/>
<text x="275.9" y="95.2" font-size="13" fill="#ffffff" text-anchor="middle">Glass side</text>
</g>
<clipPath id="ph2"><rect x="234.2" y="104.3" width="83.5" height="79.6"/></clipPath>
<g clip-path="url(#ph2)">
<rect x="234.2" y="104.3" width="83.5" height="79.6" fill="#9c8d7b"/>
<rect x="234.2" y="104.3" width="83.5" height="79.6" fill="#c9b8a0" filter="url(#noise)" opacity="0.55"/>
<path d="M240.39999999999998,183.89999999999998 L240.39999999999998,124.3 Q240.79999999999998,120.3 245.2,120.3 L256.2,120.1 Q261.0,119.3 261.4,113.3 L261.59999999999997,104.3 L290.7,104.3 L291.2,116.3 Q292.2,119.89999999999999 296.2,120.1 L308.2,120.3 Q311.79999999999995,120.8 311.79999999999995,124.3 L311.79999999999995,182.39999999999998 L240.39999999999998,182.39999999999998 Z" fill="url(#epoxy2)" stroke="#6a5a48" stroke-width="0.8"/>
<rect x="261.7" y="104.3" width="29" height="5" fill="#8c8460"/>
<rect x="261.7" y="109.3" width="29" height="10" fill="#e9a070" opacity="0.95"/>
<rect x="250.79999999999998" y="135.4" width="57" height="34" rx="3" fill="#d6cfc2"/>
<rect x="258.4" y="139.5" width="41.6" height="27.1" fill="#22231c"/>
<rect x="258.4" y="139.5" width="41.6" height="27.1" fill="#6a6a50" filter="url(#noise2)" opacity="0.35"/>
<path d="M284.2,123.3 Q290.2,128.3 296.2,127.8 M289.2,126.3 Q294.2,132.3 299.2,134.3" fill="none" stroke="#d9604a" stroke-width="0.8"/>
<text x="274.2" y="178.5" font-size="13.2" fill="#ffffff" text-anchor="middle">NiFe side</text>
</g>
<text x="330.80" y="24.80" font-size="20.5" fill="#231815" text-anchor="start" font-weight="bold" dominant-baseline="auto" >b</text>
<polyline points="382.85,232.53 383.55,230.90 384.24,228.77 384.94,225.90 385.63,222.52 386.32,218.75 387.02,214.71 387.71,210.51 388.41,206.28 389.10,202.11 389.80,198.14 390.49,194.29 391.18,190.41 391.88,186.52 392.57,182.62 393.27,178.72 393.96,174.81 394.66,170.91 395.35,167.02 396.05,163.14 396.74,159.26 397.43,155.38 398.13,151.50 398.82,147.61 399.52,143.71 400.21,139.79 400.91,135.75 401.60,131.58 402.30,127.43 402.99,123.46 403.68,119.80 404.38,116.46 405.07,113.19 405.77,110.02 406.46,106.99 407.16,104.14 407.85,101.52 408.54,99.17 409.24,97.11 409.93,95.22 410.63,93.48 411.32,91.86 412.02,90.35 412.71,88.94 413.41,87.60 414.10,86.33 414.79,85.09 415.49,83.86 416.18,82.68 416.88,81.54 417.57,80.47 418.27,79.48 418.96,78.58 419.66,77.79 420.35,77.11 421.04,76.49 421.74,75.90 422.43,75.34 423.13,74.80 423.82,74.30 424.52,73.82 425.21,73.36 425.90,72.92 426.60,72.49 427.29,72.09 427.99,71.70 428.68,71.32 429.38,70.96 430.07,70.60 430.77,70.25 431.46,69.90 432.15,69.57 432.85,69.23 433.54,68.90 434.24,68.58 434.93,68.26 435.63,67.95 436.32,67.64 437.02,67.34 437.71,67.05 438.40,66.75 439.10,66.47 439.79,66.19 440.49,65.91 441.18,65.64 441.88,65.37 442.57,65.11 443.26,64.86 443.96,64.61 444.65,64.36 445.35,64.12 446.04,63.88 446.74,63.65 447.43,63.43 448.13,63.21 448.82,62.99 449.51,62.77 450.21,62.56 450.90,62.35 451.60,62.14 452.29,61.93 452.99,61.73 453.68,61.53 454.38,61.33 455.07,61.13 455.76,60.93 456.46,60.73 457.15,60.54 457.85,60.35 458.54,60.16 459.24,59.98 459.93,59.79 460.62,59.61 461.32,59.43 462.01,59.26 462.71,59.08 463.40,58.91 464.10,58.74 464.79,58.57 465.49,58.41 466.18,58.24 466.87,58.08 467.57,57.93 468.26,57.77 468.96,57.62 469.65,57.47 470.35,57.32 471.04,57.18 471.74,57.03 472.43,56.90 473.12,56.76 473.82,56.62 474.51,56.49 475.21,56.36 475.90,56.24 476.60,56.11 477.29,55.98 477.98,55.86 478.68,55.73 479.37,55.61 480.07,55.49 480.76,55.37 481.46,55.25 482.15,55.13 482.85,55.01 483.54,54.90 484.23,54.78 484.93,54.67 485.62,54.55 486.32,54.44 487.01,54.33 487.71,54.22 488.40,54.11 489.10,54.00 489.79,53.89 490.48,53.79 491.18,53.68 491.87,53.58 492.57,53.48 493.26,53.37 493.96,53.27 494.65,53.17 495.34,53.08 496.04,52.98 496.73,52.88 497.43,52.79 498.12,52.69 498.82,52.60 499.51,52.51 500.21,52.42 500.90,52.33 501.59,52.24 502.29,52.15 502.98,52.07 503.68,51.98 504.37,51.90 505.07,51.82 505.76,51.74 506.46,51.66 507.15,51.58 507.84,51.50 508.54,51.42 509.23,51.35 509.93,51.27 510.62,51.20 511.32,51.13 512.01,51.06 512.70,50.98 513.40,50.91 514.09,50.84 514.79,50.77 515.48,50.70 516.18,50.63 516.87,50.56 517.57,50.50 518.26,50.43 518.95,50.36 519.65,50.29 520.34,50.23 521.04,50.16 521.73,50.09 522.43,50.03 523.12,49.96 523.82,49.90 524.51,49.83 525.20,49.77 525.90,49.71 526.59,49.64 527.29,49.58 527.98,49.52 528.68,49.46 529.37,49.40 530.06,49.34 530.76,49.28 531.45,49.22 532.15,49.16 532.84,49.10 533.54,49.04 534.23,48.98 534.93,48.92 535.62,48.87 536.31,48.81 537.01,48.75 537.70,48.70 538.40,48.64 539.09,48.59 539.79,48.53 540.48,48.48 541.18,48.42 541.87,48.37 542.56,48.32 543.26,48.27 543.95,48.21 544.65,48.16 545.34,48.11 546.04,48.06 546.73,48.01 547.42,47.96 548.12,47.91 548.81,47.86 549.51,47.82 550.20,47.77 550.90,47.72 551.59,47.67 552.29,47.63 552.98,47.58 553.67,47.54 554.37,47.49 555.06,47.45 555.76,47.40 556.45,47.36 557.15,47.32 557.84,47.28 558.54,47.23 559.23,47.19 559.92,47.15 560.62,47.11 561.31,47.07 562.01,47.03 562.70,46.99 563.40,46.95 564.09,46.91 564.78,46.88 565.48,46.84 566.17,46.80 566.87,46.76 567.56,46.73 568.26,46.69 568.95,46.65 569.65,46.62 570.34,46.58 571.03,46.55 571.73,46.51 572.42,46.48 573.12,46.45 573.81,46.41 574.51,46.38 575.20,46.35 575.90,46.31 576.59,46.28 577.28,46.25 577.98,46.22 578.67,46.18 579.37,46.15 580.06,46.12 580.76,46.09 581.45,46.06 582.14,46.03 582.84,46.00 583.53,45.97 584.23,45.94 584.92,45.91 585.62,45.88 586.31,45.85 587.01,45.82 587.70,45.79 588.39,45.76 589.09,45.73 589.78,45.70 590.48,45.67 591.17,45.65 591.87,45.62 592.56,45.59 593.26,45.56 593.95,45.53 594.64,45.51 595.34,45.48 596.03,45.45 596.73,45.42 597.42,45.40 598.12,45.37 598.81,45.34 599.50,45.31 600.20,45.29 600.89,45.26 601.59,45.23 602.28,45.21 602.98,45.18 603.67,45.15 604.37,45.12 605.06,45.10 605.75,45.07 606.45,45.04 607.14,45.02 607.84,44.99 608.53,44.96 609.23,44.94 609.92,44.91 610.62,44.88 611.31,44.85 612.00,44.83 612.70,44.80 613.39,44.77 614.09,44.74 614.78,44.72 615.48,44.69 616.17,44.66 616.86,44.64 617.56,44.61 618.25,44.58 618.95,44.56 619.64,44.53 620.34,44.50 621.03,44.48 621.73,44.45 622.42,44.43 623.11,44.40 623.81,44.38 624.50,44.35 625.20,44.33 625.89,44.30 626.59,44.28 627.28,44.25 627.98,44.23 628.67,44.20 629.36,44.18 630.06,44.15 630.75,44.13 631.45,44.10 632.14,44.08 632.84,44.06 633.53,44.03 634.22,44.01 634.92,43.98 635.61,43.96 636.31,43.93 637.00,43.91 637.70,43.89 638.39,43.86 639.09,43.84 639.78,43.81 640.47,43.79 641.17,43.77 641.86,43.74 642.56,43.72 643.25,43.69 643.95,43.67 644.64,43.64 645.34,43.62 646.03,43.59 646.72,43.57 647.42,43.54 648.11,43.52" fill="none" stroke="#e8262a" stroke-width="1.1" stroke-linejoin="round" />
<polyline points="370.70,232.73 374.17,232.65 377.64,232.56 381.12,232.48 384.59,232.39 388.06,232.30 391.53,232.22 395.00,232.13 398.48,232.05 401.95,231.97 405.42,231.90 408.89,231.83 412.36,231.76 415.84,231.69 419.31,231.62 422.78,231.56 426.25,231.49 429.72,231.43 433.20,231.36 436.67,231.30 440.14,231.24 443.61,231.18 447.08,231.12 450.56,231.06 454.03,231.00 457.50,230.94 460.97,230.88 464.44,230.82 467.92,230.76 471.39,230.71 474.86,230.65 478.33,230.59 481.80,230.54 485.28,230.48 488.75,230.43 492.22,230.37 495.69,230.32 499.16,230.27 502.64,230.22 506.11,230.16 509.58,230.11 513.05,230.06 516.52,230.01 520.00,229.96 523.47,229.91 526.94,229.86 530.41,229.81 533.88,229.76 537.36,229.71 540.83,229.66 544.30,229.61 547.77,229.56 551.24,229.51 554.72,229.46 558.19,229.41 561.66,229.36 565.13,229.31 568.60,229.26 572.08,229.21 575.55,229.16 579.02,229.11 582.49,229.07 585.96,229.02 589.44,228.97 592.91,228.92 596.38,228.87 599.85,228.82 603.32,228.78 606.80,228.73 610.27,228.68 613.74,228.63 617.21,228.58 620.68,228.54 624.16,228.49 627.63,228.44 631.10,228.39 634.57,228.34 638.04,228.30 641.52,228.25 644.99,228.20 648.46,228.15" fill="none" stroke="#222" stroke-width="1.3" stroke-linejoin="round" />
<rect x="370.80" y="21.00" width="277.70" height="212.10" fill="none" stroke="#000" stroke-width="1.1"/>
<line x1="370.70" y1="233.10" x2="370.70" y2="237.10" stroke="#000" stroke-width="1.1" />
<line x1="405.42" y1="233.10" x2="405.42" y2="237.10" stroke="#000" stroke-width="1.1" />
<line x1="440.14" y1="233.10" x2="440.14" y2="237.10" stroke="#000" stroke-width="1.1" />
<line x1="474.86" y1="233.10" x2="474.86" y2="237.10" stroke="#000" stroke-width="1.1" />
<line x1="509.58" y1="233.10" x2="509.58" y2="237.10" stroke="#000" stroke-width="1.1" />
<line x1="544.30" y1="233.10" x2="544.30" y2="237.10" stroke="#000" stroke-width="1.1" />
<line x1="579.02" y1="233.10" x2="579.02" y2="237.10" stroke="#000" stroke-width="1.1" />
<line x1="613.74" y1="233.10" x2="613.74" y2="237.10" stroke="#000" stroke-width="1.1" />
<line x1="648.46" y1="233.10" x2="648.46" y2="237.10" stroke="#000" stroke-width="1.1" />
<line x1="388.06" y1="233.10" x2="388.06" y2="235.30" stroke="#000" stroke-width="1.1" />
<line x1="422.78" y1="233.10" x2="422.78" y2="235.30" stroke="#000" stroke-width="1.1" />
<line x1="457.50" y1="233.10" x2="457.50" y2="235.30" stroke="#000" stroke-width="1.1" />
<line x1="492.22" y1="233.10" x2="492.22" y2="235.30" stroke="#000" stroke-width="1.1" />
<line x1="526.94" y1="233.10" x2="526.94" y2="235.30" stroke="#000" stroke-width="1.1" />
<line x1="561.66" y1="233.10" x2="561.66" y2="235.30" stroke="#000" stroke-width="1.1" />
<line x1="596.38" y1="233.10" x2="596.38" y2="235.30" stroke="#000" stroke-width="1.1" />
<line x1="631.10" y1="233.10" x2="631.10" y2="235.30" stroke="#000" stroke-width="1.1" />
<text x="370.70" y="246.60" font-size="13.4" fill="#000" text-anchor="middle" font-weight="bold" dominant-baseline="central" >-0.2</text>
<text x="405.42" y="246.60" font-size="13.4" fill="#000" text-anchor="middle" font-weight="bold" dominant-baseline="central" >0.0</text>
<text x="440.14" y="246.60" font-size="13.4" fill="#000" text-anchor="middle" font-weight="bold" dominant-baseline="central" >0.2</text>
<text x="474.86" y="246.60" font-size="13.4" fill="#000" text-anchor="middle" font-weight="bold" dominant-baseline="central" >0.4</text>
<text x="509.58" y="246.60" font-size="13.4" fill="#000" text-anchor="middle" font-weight="bold" dominant-baseline="central" >0.6</text>
<text x="544.30" y="246.60" font-size="13.4" fill="#000" text-anchor="middle" font-weight="bold" dominant-baseline="central" >0.8</text>
<text x="579.02" y="246.60" font-size="13.4" fill="#000" text-anchor="middle" font-weight="bold" dominant-baseline="central" >1.0</text>
<text x="613.74" y="246.60" font-size="13.4" fill="#000" text-anchor="middle" font-weight="bold" dominant-baseline="central" >1.2</text>
<text x="648.46" y="246.60" font-size="13.4" fill="#000" text-anchor="middle" font-weight="bold" dominant-baseline="central" >1.4</text>
<line x1="370.80" y1="229.40" x2="366.80" y2="229.40" stroke="#000" stroke-width="1.1" />
<line x1="370.80" y1="187.72" x2="366.80" y2="187.72" stroke="#000" stroke-width="1.1" />
<line x1="370.80" y1="146.04" x2="366.80" y2="146.04" stroke="#000" stroke-width="1.1" />
<line x1="370.80" y1="104.36" x2="366.80" y2="104.36" stroke="#000" stroke-width="1.1" />
<line x1="370.80" y1="62.68" x2="366.80" y2="62.68" stroke="#000" stroke-width="1.1" />
<line x1="370.80" y1="21.00" x2="366.80" y2="21.00" stroke="#000" stroke-width="1.1" />
<line x1="370.80" y1="208.56" x2="368.60" y2="208.56" stroke="#000" stroke-width="1.1" />
<line x1="370.80" y1="166.88" x2="368.60" y2="166.88" stroke="#000" stroke-width="1.1" />
<line x1="370.80" y1="125.20" x2="368.60" y2="125.20" stroke="#000" stroke-width="1.1" />
<line x1="370.80" y1="83.52" x2="368.60" y2="83.52" stroke="#000" stroke-width="1.1" />
<line x1="370.80" y1="41.84" x2="368.60" y2="41.84" stroke="#000" stroke-width="1.1" />
<text x="363.70" y="229.40" font-size="13.4" fill="#000" text-anchor="end" font-weight="bold" dominant-baseline="central" >0</text>
<text x="363.70" y="187.72" font-size="13.4" fill="#000" text-anchor="end" font-weight="bold" dominant-baseline="central" >2</text>
<text x="363.70" y="146.04" font-size="13.4" fill="#000" text-anchor="end" font-weight="bold" dominant-baseline="central" >4</text>
<text x="363.70" y="104.36" font-size="13.4" fill="#000" text-anchor="end" font-weight="bold" dominant-baseline="central" >6</text>
<text x="363.70" y="62.68" font-size="13.4" fill="#000" text-anchor="end" font-weight="bold" dominant-baseline="central" >8</text>
<text x="363.70" y="21.00" font-size="13.4" fill="#000" text-anchor="end" font-weight="bold" dominant-baseline="central" >10</text>
<text x="509.40" y="264.40" font-size="13.3" fill="#000" text-anchor="middle" font-weight="bold" dominant-baseline="central" ><tspan font-style="italic">E</tspan> (V vs. RHE)</text>
<text x="335.40" y="127.50" font-size="13.4" fill="#000" text-anchor="middle" font-weight="bold" dominant-baseline="central" transform="rotate(-90 335.40 127.50)" >Current density (mA cm<tspan dy="-5.09" font-size="9.38">-2</tspan><tspan dy="5.09">​</tspan>)</text>
<line x1="377.80" y1="32.00" x2="403.60" y2="32.00" stroke="#e8262a" stroke-width="1.2" />
<text x="410.20" y="32.30" font-size="11" fill="#000" text-anchor="start" dominant-baseline="central" >Light</text>
<line x1="377.80" y1="46.20" x2="403.60" y2="46.20" stroke="#333" stroke-width="1.4" />
<text x="410.20" y="45.90" font-size="11" fill="#000" text-anchor="start" dominant-baseline="central" >Dark</text>
<line x1="405.30" y1="203.40" x2="521.20" y2="203.40" stroke="#000" stroke-width="1.0" />
<line x1="405.29" y1="203.40" x2="405.29" y2="200.40" stroke="#000" stroke-width="1.0" />
<text x="405.29" y="212.40" font-size="7.6" fill="#000" text-anchor="middle" font-weight="bold" dominant-baseline="central" >-0.4</text>
<line x1="434.27" y1="203.40" x2="434.27" y2="200.40" stroke="#000" stroke-width="1.0" />
<text x="434.27" y="212.40" font-size="7.6" fill="#000" text-anchor="middle" font-weight="bold" dominant-baseline="central" >-0.2</text>
<line x1="463.25" y1="203.40" x2="463.25" y2="200.40" stroke="#000" stroke-width="1.0" />
<text x="463.25" y="212.40" font-size="7.6" fill="#000" text-anchor="middle" font-weight="bold" dominant-baseline="central" >0.0</text>
<line x1="492.23" y1="203.40" x2="492.23" y2="200.40" stroke="#000" stroke-width="1.0" />
<text x="492.23" y="212.40" font-size="7.6" fill="#000" text-anchor="middle" font-weight="bold" dominant-baseline="central" >0.2</text>
<line x1="521.21" y1="203.40" x2="521.21" y2="200.40" stroke="#000" stroke-width="1.0" />
<text x="521.21" y="212.40" font-size="7.6" fill="#000" text-anchor="middle" font-weight="bold" dominant-baseline="central" >0.4</text>
<line x1="419.78" y1="203.40" x2="419.78" y2="201.60" stroke="#000" stroke-width="1.0" />
<line x1="448.76" y1="203.40" x2="448.76" y2="201.60" stroke="#000" stroke-width="1.0" />
<line x1="477.74" y1="203.40" x2="477.74" y2="201.60" stroke="#000" stroke-width="1.0" />
<line x1="506.72" y1="203.40" x2="506.72" y2="201.60" stroke="#000" stroke-width="1.0" />
<text x="460.50" y="220.30" font-size="8.6" fill="#000" text-anchor="middle" font-weight="bold" dominant-baseline="central" ><tspan font-style="italic">E</tspan> (V vs. RHE)</text>
<text x="455.10" y="140.60" font-size="8.7" fill="#000" text-anchor="middle" dominant-baseline="central" >Onset potential</text>
<polyline points="433.90,160.76 434.72,160.48 435.54,160.18 436.35,159.84 437.17,159.48 437.99,159.09 438.81,158.68 439.63,158.24 440.45,157.79 441.26,157.32 442.08,156.84 442.90,156.35 443.72,155.87 444.54,155.39 445.36,154.92 446.17,154.47 446.99,154.05 447.81,153.66 448.63,153.31 449.45,153.00 450.27,152.75 451.08,152.55 451.90,152.40 452.72,152.32 453.54,152.30 454.36,152.34 455.18,152.45 456.00,152.61 456.81,152.83 457.63,153.10 458.45,153.42 459.27,153.79 460.09,154.19 460.90,154.62 461.72,155.08 462.54,155.55 463.36,156.03 464.18,156.52 465.00,157.00 465.81,157.48 466.63,157.94 467.45,158.39 468.27,158.82 469.09,159.23 469.91,159.61 470.73,159.96 471.54,160.29 472.36,160.58 473.18,160.85 474.00,161.10 474.82,161.31 475.63,161.51 476.45,161.68 477.27,161.82 478.09,161.95 478.91,162.06 479.73,162.16 480.55,162.24 481.36,162.30 482.18,162.36 483.00,162.41" fill="none" stroke="#d4342f" stroke-width="1.0" stroke-linejoin="round" />
<circle cx="444.20" cy="156.40" r="1.9" fill="#d4342f" />
<circle cx="449.30" cy="154.30" r="1.9" fill="#d4342f" />
<circle cx="453.80" cy="157.40" r="1.9" fill="#d4342f" />
<circle cx="461.50" cy="155.80" r="1.9" fill="#d4342f" />
<circle cx="463.20" cy="159.40" r="1.9" fill="#d4342f" />
<circle cx="445.20" cy="159.40" r="1.9" fill="#d4342f" />
<circle cx="439.70" cy="162.50" r="1.9" fill="#d4342f" />
<circle cx="442.70" cy="162.50" r="1.9" fill="#d4342f" />
<circle cx="455.00" cy="160.90" r="1.9" fill="#d4342f" />
<circle cx="453.40" cy="163.30" r="1.9" fill="#d4342f" />
<circle cx="456.40" cy="162.90" r="1.9" fill="#d4342f" />
<circle cx="469.70" cy="162.90" r="1.9" fill="#d4342f" />
<circle cx="468.70" cy="164.60" r="1.9" fill="#d4342f" />
<circle cx="445.20" cy="166.60" r="1.9" fill="#d4342f" />
<circle cx="450.90" cy="167.40" r="1.9" fill="#d4342f" />
<circle cx="460.50" cy="166.00" r="1.9" fill="#d4342f" />
<circle cx="445.20" cy="169.00" r="1.9" fill="#d4342f" />
<circle cx="451.30" cy="170.50" r="1.9" fill="#d4342f" />
<circle cx="456.00" cy="169.00" r="1.9" fill="#d4342f" />
<circle cx="464.00" cy="161.50" r="1.9" fill="#d4342f" />
<line x1="439.50" y1="190.00" x2="471.10" y2="190.00" stroke="#d4342f" stroke-width="0.9" />
<line x1="439.50" y1="187.80" x2="439.50" y2="192.20" stroke="#d4342f" stroke-width="0.9" />
<line x1="471.10" y1="187.80" x2="471.10" y2="192.20" stroke="#d4342f" stroke-width="0.9" />
<rect x="445.2" y="186.4" width="16.3" height="7.2" fill="url(#hatch)" stroke="#d4342f" stroke-width="0.9"/>
<line x1="608.90" y1="59.40" x2="608.90" y2="175.30" stroke="#000" stroke-width="1.0" />
<line x1="608.90" y1="175.30" x2="611.90" y2="175.30" stroke="#000" stroke-width="1.0" />
<text x="612.60" y="175.60" font-size="7.6" fill="#000" text-anchor="start" font-weight="bold" dominant-baseline="central" >6</text>
<line x1="608.90" y1="128.90" x2="611.90" y2="128.90" stroke="#000" stroke-width="1.0" />
<text x="612.60" y="129.20" font-size="7.6" fill="#000" text-anchor="start" font-weight="bold" dominant-baseline="central" >8</text>
<line x1="608.90" y1="82.50" x2="611.90" y2="82.50" stroke="#000" stroke-width="1.0" />
<text x="612.60" y="82.80" font-size="7.6" fill="#000" text-anchor="start" font-weight="bold" dominant-baseline="central" >10</text>
<line x1="608.90" y1="152.10" x2="610.70" y2="152.10" stroke="#000" stroke-width="1.0" />
<line x1="608.90" y1="105.70" x2="610.70" y2="105.70" stroke="#000" stroke-width="1.0" />
<text x="563.50" y="64.40" font-size="9.0" fill="#000" text-anchor="middle" dominant-baseline="central" >@ 1.23 V vs. RHE</text>
<text x="627.60" y="118.80" font-size="8.5" fill="#000" text-anchor="middle" font-weight="bold" dominant-baseline="central" transform="rotate(-90 627.60 118.80)" >Current density (mA cm<tspan dy="-3.23" font-size="5.95">-2</tspan><tspan dy="3.23">​</tspan>)</text>
<line x1="550.70" y1="92.70" x2="550.70" y2="131.40" stroke="#d4342f" stroke-width="0.9" />
<line x1="548.60" y1="92.70" x2="552.80" y2="92.70" stroke="#d4342f" stroke-width="0.9" />
<line x1="548.60" y1="131.40" x2="552.80" y2="131.40" stroke="#d4342f" stroke-width="0.9" />
<rect x="547.1" y="107.4" width="7.2" height="12.3" fill="url(#hatch)" stroke="#d4342f" stroke-width="0.9"/>
<polyline points="586.74,82.30 586.97,83.47 587.24,84.64 587.55,85.80 587.89,86.97 588.28,88.14 588.70,89.31 589.16,90.48 589.66,91.65 590.19,92.81 590.75,93.98 591.33,95.15 591.92,96.32 592.52,97.49 593.12,98.66 593.70,99.83 594.25,100.99 594.77,102.16 595.24,103.33 595.66,104.50 596.01,105.67 596.28,106.84 596.47,108.00 596.58,109.17 596.60,110.34 596.53,111.51 596.37,112.68 596.13,113.84 595.81,115.01 595.42,116.18 594.98,117.35 594.47,118.52 593.93,119.69 593.36,120.85 592.77,122.02 592.17,123.19 591.58,124.36 590.99,125.53 590.42,126.70 589.88,127.87 589.37,129.03 588.89,130.20 588.45,131.37 588.05,132.54 587.69,133.71 587.36,134.88 587.08,136.04 586.83,137.21 586.62,138.38 586.43,139.55 586.27,140.72 586.14,141.88 586.03,143.05 585.94,144.22 585.87,145.39 585.81,146.56 585.76,147.73 585.73,148.89 585.70,150.06 585.67,151.23 585.65,152.40" fill="none" stroke="#d4342f" stroke-width="1.0" stroke-linejoin="round" />
<circle cx="586.40" cy="93.50" r="1.9" fill="#d4342f" />
<circle cx="586.40" cy="94.80" r="1.9" fill="#d4342f" />
<circle cx="584.40" cy="103.40" r="1.9" fill="#d4342f" />
<circle cx="588.00" cy="104.40" r="1.9" fill="#d4342f" />
<circle cx="585.80" cy="106.40" r="1.9" fill="#d4342f" />
<circle cx="579.30" cy="111.10" r="1.9" fill="#d4342f" />
<circle cx="581.30" cy="111.10" r="1.9" fill="#d4342f" />
<circle cx="584.00" cy="110.50" r="1.9" fill="#d4342f" />
<circle cx="591.50" cy="110.50" r="1.9" fill="#d4342f" />
<circle cx="595.60" cy="108.00" r="1.9" fill="#d4342f" />
<circle cx="577.20" cy="115.20" r="1.9" fill="#d4342f" />
<circle cx="588.50" cy="114.20" r="1.9" fill="#d4342f" />
<circle cx="590.50" cy="114.20" r="1.9" fill="#d4342f" />
<circle cx="593.20" cy="114.20" r="1.9" fill="#d4342f" />
<circle cx="584.80" cy="124.80" r="1.9" fill="#d4342f" />
<circle cx="588.00" cy="123.80" r="1.9" fill="#d4342f" />
<circle cx="586.40" cy="131.40" r="1.9" fill="#d4342f" />
<circle cx="586.40" cy="143.20" r="1.9" fill="#d4342f" />
<text x="3.20" y="286.60" font-size="20.5" fill="#231815" text-anchor="start" font-weight="bold" dominant-baseline="auto" >c</text>
<polyline points="39.50,458.22 40.30,457.44 41.11,456.69 41.91,455.98 42.72,455.29 43.52,454.65 44.33,454.03 45.13,453.45 45.94,452.90 46.74,452.39 47.55,451.92 48.36,451.48 49.16,451.08 49.97,450.72 50.77,450.39 51.58,450.11 52.38,449.87 53.19,449.67 53.99,449.52 54.80,449.42 55.60,449.38 55.60,479.42 56.21,474.45 56.82,471.03 57.43,468.68 58.03,467.07 58.64,465.96 59.25,465.19 59.86,464.67 60.47,464.31 61.08,464.06 61.68,463.89 62.29,463.77 62.90,463.69 63.20,463.52 63.20,376.05 63.78,403.17 64.36,419.61 64.94,429.59 65.51,435.64 66.09,439.31 66.67,441.53 67.25,442.88 67.83,443.70 68.41,444.20 68.99,444.50 69.56,444.68 70.14,444.79 70.72,444.86 71.30,444.90 71.50,442.31 71.80,479.42 72.46,474.45 73.12,471.03 73.78,468.68 74.43,467.07 75.09,465.96 75.75,465.19 76.41,464.67 77.07,464.31 77.72,464.06 78.38,463.89 79.04,463.77 79.70,463.69 80.00,463.52 80.00,363.68 80.54,392.54 81.07,410.04 81.61,420.65 82.14,427.09 82.68,430.99 83.21,433.36 83.75,434.80 84.29,435.67 84.82,436.20 85.36,436.52 85.89,436.71 86.43,436.83 86.96,436.90 87.50,436.95 87.70,434.36 88.00,479.42 88.60,474.45 89.20,471.03 89.80,468.68 90.40,467.07 91.00,465.96 91.60,465.19 92.20,464.67 92.80,464.31 93.40,464.06 94.00,463.89 94.60,463.77 95.20,463.69 95.50,463.52 95.50,356.61 95.96,375.73 96.43,387.33 96.89,394.36 97.36,398.63 97.82,401.22 98.29,402.79 98.75,403.74 99.21,404.32 99.68,404.67 100.14,404.88 100.61,405.01 101.07,405.09 101.54,405.13 102.00,405.16 102.20,402.56 102.50,473.24 104.50,471.82 109.50,470.94 109.80,473.11 109.80,365.45 110.60,368.28 111.80,367.22 116.40,368.10 116.70,472.82 117.90,470.70 123.80,468.82 123.80,469.17 123.80,346.90 124.60,349.72 125.80,348.66 130.40,349.55 130.70,470.34 131.90,468.22 137.30,467.20 137.30,467.56 137.30,338.94 138.10,341.77 139.30,340.71 143.90,341.59 144.20,469.17 145.40,467.05 151.10,466.29 151.10,466.65 151.10,332.76 151.90,335.59 153.10,334.53 157.70,335.41 158.00,468.37 159.20,466.25 166.00,465.47 166.00,465.82 166.00,326.58 166.80,329.40 168.00,328.34 172.60,329.23 172.90,467.59 174.10,465.47 180.30,464.75 180.30,465.10 180.30,323.92 181.10,326.75 182.30,325.69 186.90,326.58 187.20,466.89 188.40,464.77 194.50,464.07 194.50,464.42 194.50,319.51 195.30,322.33 196.50,321.27 201.10,322.16 201.40,466.20 202.60,464.08 208.50,463.35 208.50,463.71 208.50,315.97 209.30,318.80 210.50,317.74 215.10,318.62 215.40,465.45 216.60,463.33 223.40,462.54 223.40,462.89 223.40,312.97 224.20,315.80 225.40,314.74 230.00,315.62 230.30,464.63 231.50,462.51 238.30,461.72 238.30,462.07 238.30,310.67 239.10,313.50 240.30,312.44 244.90,313.32 245.20,463.79 246.40,461.67 253.10,460.85 253.10,461.21 253.10,308.02 253.90,310.85 255.10,309.79 259.70,310.67 260.00,462.96 261.20,460.84 266.80,460.17 266.80,460.52 266.80,305.37 267.60,308.20 268.80,307.14 273.40,308.02 273.70,462.37 274.90,460.25 280.40,459.66 280.40,460.02 280.40,303.96 281.20,306.78 282.40,305.72 287.00,306.61 287.30,461.92 288.50,459.80 294.10,459.25 294.10,459.60 294.10,302.19 294.90,305.02 296.10,303.96 300.70,304.84 301.00,461.54 302.20,459.42 307.70,458.91 307.70,459.27 307.70,300.95 308.50,303.78 309.70,302.72 314.30,303.60 314.60,461.25 315.75,459.12 315.75,458.75" fill="none" stroke="#e8383c" stroke-width="1.0" stroke-linejoin="round" />
<polyline points="55.75,454.86 56.56,454.86 57.38,454.86 58.19,454.86 59.00,454.86 59.81,454.86 60.63,454.86 61.44,454.86 62.25,454.86 63.06,454.86 63.88,454.86 64.69,454.86 65.50,454.86 66.31,454.86 67.13,454.86 67.94,454.86 68.75,454.86 69.56,454.86 70.38,454.86 71.19,454.86 72.00,454.86 72.81,454.86 73.63,454.86 74.44,454.86 75.25,454.86 76.06,454.86 76.88,454.86 77.69,454.86 78.50,454.86 79.31,454.86 80.13,454.86 80.94,454.86 81.75,454.86 82.56,454.86 83.38,454.86 84.19,454.86 85.00,454.86 85.81,454.86 86.63,454.86 87.44,454.86 88.25,454.86 89.06,453.86 89.88,451.10 90.69,446.96 91.50,441.81 92.31,436.02 93.13,429.96 93.94,424.01 94.75,418.54 95.56,413.91 96.38,410.51 97.19,407.99 98.00,405.72 98.81,403.68 99.63,401.80 100.44,400.04 101.25,398.36 102.06,396.70 102.88,395.03 103.69,393.28 104.50,391.42 105.31,389.46 106.13,387.44 106.94,385.38 107.75,383.28 108.56,381.15 109.38,379.00 110.19,376.84 111.00,374.69 111.81,372.54 112.63,370.41 113.44,368.32 114.25,366.26 115.06,364.25 115.88,362.31 116.69,360.42 117.50,358.62 118.31,356.90 119.13,355.28 119.94,353.77 120.75,352.37 121.56,351.05 122.38,349.77 123.19,348.51 124.00,347.29 124.81,346.11 125.63,344.95 126.44,343.83 127.25,342.74 128.06,341.68 128.88,340.65 129.69,339.65 130.50,338.69 131.31,337.75 132.13,336.85 132.94,335.98 133.75,335.13 134.56,334.32 135.38,333.53 136.19,332.78 137.00,332.05 137.81,331.34 138.63,330.63 139.44,329.92 140.25,329.22 141.06,328.53 141.88,327.85 142.69,327.18 143.50,326.53 144.31,325.91 145.13,325.30 145.94,324.72 146.75,324.17 147.56,323.65 148.38,323.16 149.19,322.71 150.00,322.30 150.81,321.93 151.63,321.60 152.44,321.33 153.25,321.10 154.06,320.90 154.88,320.72 155.69,320.55 156.50,320.39 157.31,320.25 158.13,320.11 158.94,319.98 159.75,319.85 160.56,319.74 161.38,319.63 162.19,319.52 163.00,319.42 163.81,319.32 164.63,319.22 165.44,319.13 166.25,319.03 167.06,318.93 167.88,318.83 168.69,318.73 169.50,318.62 170.31,318.52 171.13,318.41 171.94,318.31 172.75,318.22 173.56,318.12 174.38,318.03 175.19,317.94 176.00,317.85 176.81,317.76 177.63,317.67 178.44,317.59 179.25,317.49 180.06,317.40 180.88,317.31 181.69,317.21 182.50,317.11 183.31,317.01 184.13,316.91 184.94,316.80 185.75,316.68 186.56,316.56 187.38,316.43 188.19,316.29 189.00,316.14 189.81,316.00 190.63,315.84 191.44,315.68 192.25,315.52 193.06,315.36 193.88,315.19 194.69,315.03 195.50,314.86 196.31,314.70 197.13,314.54 197.94,314.38 198.75,314.23 199.56,314.08 200.38,313.94 201.19,313.80 202.00,313.68 202.81,313.55 203.63,313.42 204.44,313.29 205.25,313.16 206.06,313.03 206.88,312.91 207.69,312.78 208.50,312.65 209.31,312.53 210.13,312.41 210.94,312.30 211.75,312.19 212.56,312.08 213.38,311.98 214.19,311.89 215.00,311.81 215.81,311.73 216.63,311.66 217.44,311.60 218.25,311.56 219.06,311.51 219.88,311.48 220.69,311.44 221.50,311.41 222.31,311.37 223.13,311.34 223.94,311.31 224.75,311.29 225.56,311.26 226.38,311.24 227.19,311.21 228.00,311.19 228.81,311.17 229.63,311.15 230.44,311.13 231.25,311.11 232.06,311.09 232.88,311.07 233.69,311.05 234.50,311.03 235.31,311.00 236.13,310.98 236.94,310.96 237.75,310.93 238.56,310.91 239.38,310.89 240.19,310.86 241.00,310.84 241.81,310.82 242.63,310.80 243.44,310.78 244.25,310.76 245.06,310.74 245.88,310.72 246.69,310.71 247.50,310.70 248.31,310.69 249.13,310.68 249.94,310.67 250.75,310.67 251.56,310.67 252.38,310.67 253.19,310.67 254.00,310.67 254.81,310.67 255.63,310.67 256.44,310.67 257.25,310.67 258.06,310.67 258.88,310.67 259.69,310.67 260.50,310.67 261.31,310.67 262.13,310.67 262.94,310.67 263.75,310.67 264.56,310.67 265.38,310.67 266.19,310.67 267.00,310.67 267.81,310.67 268.63,310.67 269.44,310.67 270.25,310.67 271.06,310.67 271.88,310.67 272.69,310.67 273.50,310.67 274.31,310.67 275.12,310.67 275.94,310.67 276.75,310.67 277.56,310.67 278.37,310.67 279.19,310.67 280.00,310.67 280.81,310.67 281.62,310.67 282.44,310.67 283.25,310.67 284.06,310.67 284.87,310.66 285.69,310.65 286.50,310.63 287.31,310.61 288.12,310.59 288.94,310.56 289.75,310.54 290.56,310.51 291.37,310.47 292.19,310.44 293.00,310.40 293.81,310.37 294.62,310.33 295.44,310.30 296.25,310.26 297.06,310.23 297.87,310.20 298.69,310.17 299.50,310.14 300.31,310.12 301.12,310.09 301.94,310.06 302.75,310.04 303.56,310.01 304.37,309.98 305.19,309.96 306.00,309.93 306.81,309.90 307.62,309.88 308.44,309.85 309.25,309.82 310.06,309.80 310.87,309.77 311.69,309.74 312.50,309.72 313.31,309.69 314.12,309.66 314.94,309.64 315.75,309.61" fill="none" stroke="#4a4aa0" stroke-width="1.2" stroke-linejoin="round" stroke-dasharray="3.2,2.4"/>
<circle cx="55.75" cy="454.86" r="3.1" fill="#4a4aa0" />
<circle cx="72.00" cy="454.86" r="3.1" fill="#4a4aa0" />
<circle cx="88.25" cy="454.86" r="3.1" fill="#4a4aa0" />
<circle cx="96.38" cy="410.51" r="3.1" fill="#4a4aa0" />
<circle cx="104.50" cy="391.42" r="3.1" fill="#4a4aa0" />
<circle cx="120.75" cy="352.37" r="3.1" fill="#4a4aa0" />
<circle cx="137.00" cy="332.05" r="3.1" fill="#4a4aa0" />
<circle cx="153.25" cy="321.10" r="3.1" fill="#4a4aa0" />
<circle cx="169.50" cy="318.62" r="3.1" fill="#4a4aa0" />
<circle cx="185.75" cy="316.68" r="3.1" fill="#4a4aa0" />
<circle cx="202.00" cy="313.68" r="3.1" fill="#4a4aa0" />
<circle cx="218.25" cy="311.56" r="3.1" fill="#4a4aa0" />
<circle cx="234.50" cy="311.03" r="3.1" fill="#4a4aa0" />
<circle cx="250.75" cy="310.67" r="3.1" fill="#4a4aa0" />
<circle cx="267.00" cy="310.67" r="3.1" fill="#4a4aa0" />
<circle cx="283.25" cy="310.67" r="3.1" fill="#4a4aa0" />
<circle cx="299.50" cy="310.14" r="3.1" fill="#4a4aa0" />
<circle cx="315.75" cy="309.61" r="3.1" fill="#4a4aa0" />
<rect x="39.50" y="282.40" width="276.25" height="212.00" fill="none" stroke="#000" stroke-width="1.1"/>
<line x1="39.50" y1="494.40" x2="39.50" y2="498.40" stroke="#000" stroke-width="1.1" />
<line x1="72.00" y1="494.40" x2="72.00" y2="498.40" stroke="#000" stroke-width="1.1" />
<line x1="104.50" y1="494.40" x2="104.50" y2="498.40" stroke="#000" stroke-width="1.1" />
<line x1="137.00" y1="494.40" x2="137.00" y2="498.40" stroke="#000" stroke-width="1.1" />
<line x1="169.50" y1="494.40" x2="169.50" y2="498.40" stroke="#000" stroke-width="1.1" />
<line x1="202.00" y1="494.40" x2="202.00" y2="498.40" stroke="#000" stroke-width="1.1" />
<line x1="234.50" y1="494.40" x2="234.50" y2="498.40" stroke="#000" stroke-width="1.1" />
<line x1="267.00" y1="494.40" x2="267.00" y2="498.40" stroke="#000" stroke-width="1.1" />
<line x1="299.50" y1="494.40" x2="299.50" y2="498.40" stroke="#000" stroke-width="1.1" />
<line x1="55.75" y1="494.40" x2="55.75" y2="496.60" stroke="#000" stroke-width="1.1" />
<line x1="88.25" y1="494.40" x2="88.25" y2="496.60" stroke="#000" stroke-width="1.1" />
<line x1="120.75" y1="494.40" x2="120.75" y2="496.60" stroke="#000" stroke-width="1.1" />
<line x1="153.25" y1="494.40" x2="153.25" y2="496.60" stroke="#000" stroke-width="1.1" />
<line x1="185.75" y1="494.40" x2="185.75" y2="496.60" stroke="#000" stroke-width="1.1" />
<line x1="218.25" y1="494.40" x2="218.25" y2="496.60" stroke="#000" stroke-width="1.1" />
<line x1="250.75" y1="494.40" x2="250.75" y2="496.60" stroke="#000" stroke-width="1.1" />
<line x1="283.25" y1="494.40" x2="283.25" y2="496.60" stroke="#000" stroke-width="1.1" />
<line x1="315.75" y1="494.40" x2="315.75" y2="496.60" stroke="#000" stroke-width="1.1" />
<text x="39.50" y="507.60" font-size="13.4" fill="#000" text-anchor="middle" font-weight="bold" dominant-baseline="central" >-0.4</text>
<text x="72.00" y="507.60" font-size="13.4" fill="#000" text-anchor="middle" font-weight="bold" dominant-baseline="central" >-0.2</text>
<text x="104.50" y="507.60" font-size="13.4" fill="#000" text-anchor="middle" font-weight="bold" dominant-baseline="central" >0.0</text>
<text x="137.00" y="507.60" font-size="13.4" fill="#000" text-anchor="middle" font-weight="bold" dominant-baseline="central" >0.2</text>
<text x="169.50" y="507.60" font-size="13.4" fill="#000" text-anchor="middle" font-weight="bold" dominant-baseline="central" >0.4</text>
<text x="202.00" y="507.60" font-size="13.4" fill="#000" text-anchor="middle" font-weight="bold" dominant-baseline="central" >0.6</text>
<text x="234.50" y="507.60" font-size="13.4" fill="#000" text-anchor="middle" font-weight="bold" dominant-baseline="central" >0.8</text>
<text x="267.00" y="507.60" font-size="13.4" fill="#000" text-anchor="middle" font-weight="bold" dominant-baseline="central" >1.0</text>
<text x="299.50" y="507.60" font-size="13.4" fill="#000" text-anchor="middle" font-weight="bold" dominant-baseline="central" >1.2</text>
<line x1="39.50" y1="494.44" x2="35.50" y2="494.44" stroke="#000" stroke-width="1.1" />
<line x1="39.50" y1="459.10" x2="35.50" y2="459.10" stroke="#000" stroke-width="1.1" />
<line x1="39.50" y1="423.76" x2="35.50" y2="423.76" stroke="#000" stroke-width="1.1" />
<line x1="39.50" y1="388.42" x2="35.50" y2="388.42" stroke="#000" stroke-width="1.1" />
<line x1="39.50" y1="353.08" x2="35.50" y2="353.08" stroke="#000" stroke-width="1.1" />
<line x1="39.50" y1="317.74" x2="35.50" y2="317.74" stroke="#000" stroke-width="1.1" />
<line x1="39.50" y1="282.40" x2="35.50" y2="282.40" stroke="#000" stroke-width="1.1" />
<line x1="39.50" y1="476.77" x2="37.30" y2="476.77" stroke="#000" stroke-width="1.1" />
<line x1="39.50" y1="441.43" x2="37.30" y2="441.43" stroke="#000" stroke-width="1.1" />
<line x1="39.50" y1="406.09" x2="37.30" y2="406.09" stroke="#000" stroke-width="1.1" />
<line x1="39.50" y1="370.75" x2="37.30" y2="370.75" stroke="#000" stroke-width="1.1" />
<line x1="39.50" y1="335.41" x2="37.30" y2="335.41" stroke="#000" stroke-width="1.1" />
<line x1="39.50" y1="300.07" x2="37.30" y2="300.07" stroke="#000" stroke-width="1.1" />
<text x="32.40" y="494.44" font-size="13.4" fill="#000" text-anchor="end" font-weight="bold" dominant-baseline="central" >-2</text>
<text x="32.40" y="459.10" font-size="13.4" fill="#000" text-anchor="end" font-weight="bold" dominant-baseline="central" >0</text>
<text x="32.40" y="423.76" font-size="13.4" fill="#000" text-anchor="end" font-weight="bold" dominant-baseline="central" >2</text>
<text x="32.40" y="388.42" font-size="13.4" fill="#000" text-anchor="end" font-weight="bold" dominant-baseline="central" >4</text>
<text x="32.40" y="353.08" font-size="13.4" fill="#000" text-anchor="end" font-weight="bold" dominant-baseline="central" >6</text>
<text x="32.40" y="317.74" font-size="13.4" fill="#000" text-anchor="end" font-weight="bold" dominant-baseline="central" >8</text>
<text x="32.40" y="282.40" font-size="13.4" fill="#000" text-anchor="end" font-weight="bold" dominant-baseline="central" >10</text>
<text x="178.00" y="525.90" font-size="13.3" fill="#000" text-anchor="middle" font-weight="bold" dominant-baseline="central" ><tspan font-style="italic">E</tspan> (V vs. RHE)</text>
<text x="8.90" y="388.70" font-size="13.4" fill="#000" text-anchor="middle" font-weight="bold" dominant-baseline="central" transform="rotate(-90 8.90 388.70)" >Current density (mA cm<tspan dy="-5.09" font-size="9.38">-2</tspan><tspan dy="5.09">​</tspan>)</text>
<line x1="44.10" y1="291.40" x2="68.00" y2="291.40" stroke="#e8383c" stroke-width="1.2" />
<text x="73.70" y="292.00" font-size="10.1" fill="#000" text-anchor="start" dominant-baseline="central" >Scaning current with chopped irradiation</text>
<line x1="44.10" y1="304.30" x2="68.00" y2="304.30" stroke="#4a4aa0" stroke-width="1.2" stroke-dasharray="3.2,2.4"/>
<circle cx="55.90" cy="304.30" r="3.1" fill="#4a4aa0" />
<text x="73.70" y="304.80" font-size="10.1" fill="#000" text-anchor="start" dominant-baseline="central" >Steady state current</text>
<text x="329.20" y="286.60" font-size="20.5" fill="#231815" text-anchor="start" font-weight="bold" dominant-baseline="auto" >d</text>
<polyline points="371.00,486.57 372.11,486.27 373.22,485.97 374.33,485.67 375.44,485.37 376.55,485.08 377.66,484.79 378.77,484.50 379.88,484.20 380.99,483.91 382.10,483.62 383.21,483.33 384.32,483.03 385.43,482.74 386.54,482.44 387.65,482.15 388.76,481.85 389.87,481.54 390.98,481.24 392.09,480.93 393.20,480.61 394.31,480.29 395.42,479.97 396.53,479.64 397.64,479.31 398.75,478.97 399.86,478.63 400.97,478.30 402.08,477.96 403.19,477.63 404.30,477.30 405.41,476.97 406.52,476.63 407.63,476.29 408.74,475.95 409.85,475.61 410.96,475.26 412.07,474.90 413.18,474.53 414.29,474.16 415.40,473.78 416.51,473.39 417.62,472.99 418.73,472.57 419.84,472.15 420.95,471.71 422.06,471.25 423.17,470.78 424.28,470.29 425.39,469.79 426.50,469.27 427.61,468.69 428.72,468.02 429.83,467.27 430.94,466.46 432.05,465.60 433.16,464.70 434.27,463.77 435.38,462.82 436.49,461.88 437.60,460.94 438.71,460.02 439.82,459.14 440.93,458.28 442.04,457.42 443.15,456.57 444.26,455.71 445.37,454.86 446.48,454.01 447.59,453.15 448.70,452.30 449.81,451.44 450.92,450.59 452.03,449.73 453.14,448.86 454.25,447.99 455.36,447.12 456.47,446.25 457.58,445.36 458.69,444.48 459.80,443.58 460.91,442.68 462.02,441.77 463.13,440.85 464.24,439.92 465.35,438.99 466.46,438.04 467.57,437.08 468.68,436.11 469.79,435.13 470.90,434.14 472.01,433.14 473.12,432.13 474.23,431.11 475.34,430.08 476.45,429.05 477.56,428.01 478.67,426.97 479.78,425.91 480.89,424.86 482.00,423.80 483.11,422.74 484.22,421.67 485.33,420.61 486.44,419.54 487.55,418.47 488.66,417.40 489.77,416.33 490.88,415.27 491.99,414.20 493.10,413.14 494.21,412.08 495.32,411.02 496.43,409.95 497.54,408.88 498.65,407.81 499.76,406.73 500.87,405.65 501.98,404.57 503.09,403.49 504.20,402.41 505.31,401.33 506.42,400.24 507.53,399.15 508.64,398.06 509.75,396.97 510.86,395.88 511.97,394.79 513.08,393.70 514.19,392.61 515.30,391.52 516.41,390.43 517.52,389.33 518.63,388.24 519.74,387.15 520.85,386.06 521.96,384.97 523.07,383.88 524.18,382.78 525.29,381.69 526.40,380.60 527.51,379.50 528.62,378.40 529.73,377.31 530.84,376.21 531.95,375.11 533.06,374.01 534.17,372.91 535.28,371.81 536.39,370.71 537.50,369.61 538.61,368.51 539.72,367.40 540.83,366.30 541.94,365.19 543.05,364.09 544.16,362.98 545.27,361.87 546.38,360.76 547.49,359.65 548.60,358.54 549.71,357.43 550.82,356.31 551.93,355.20 553.04,354.08 554.15,352.96 555.26,351.84 556.37,350.71 557.48,349.58 558.59,348.45 559.70,347.31 560.81,346.16 561.92,345.00 563.03,343.82 564.14,342.64 565.25,341.46 566.36,340.29 567.47,339.12 568.58,337.96 569.69,336.82 570.80,335.70 571.91,334.60 573.02,333.49 574.13,332.38 575.24,331.28 576.35,330.19 577.46,329.13 578.57,328.08 579.68,327.07 580.79,326.09 581.90,325.15 583.01,324.22 584.12,323.29 585.23,322.38 586.34,321.56 587.45,320.85 588.56,320.30 589.67,319.86 590.78,319.44 591.89,319.06 593.00,318.76 594.11,318.53 595.22,318.40 596.33,318.34 597.44,318.28 598.55,318.22 599.66,318.18 600.77,318.14 601.88,318.12 602.99,318.10 604.10,318.09 605.21,318.08 606.32,318.08 607.43,318.07 608.54,318.07 609.65,318.06 610.76,318.06 611.87,318.06 612.98,318.05 614.09,318.05 615.20,318.05 616.31,318.04 617.42,318.04 618.53,318.04 619.64,318.04 620.75,318.03 621.86,318.03 622.97,318.03 624.08,318.03 625.19,318.02 626.30,318.02 627.41,318.02 628.52,318.02 629.63,318.02 630.74,318.01 631.85,318.01 632.96,318.01 634.07,318.01 635.18,318.01 636.29,318.00 637.40,318.00 638.51,318.00 639.62,318.00 640.73,318.00 641.84,318.00 642.95,317.99 644.06,317.99 645.17,317.99 646.28,317.99 647.39,317.98 648.50,317.98" fill="none" stroke="#c8304c" stroke-width="1.2" stroke-linejoin="round" />
<polyline points="371.00,487.62 372.11,487.37 373.22,487.11 374.33,486.85 375.44,486.60 376.55,486.35 377.66,486.10 378.77,485.86 379.88,485.61 380.99,485.36 382.10,485.12 383.21,484.87 384.32,484.62 385.43,484.37 386.54,484.12 387.65,483.86 388.76,483.61 389.87,483.34 390.98,483.08 392.09,482.81 393.20,482.54 394.31,482.26 395.42,481.97 396.53,481.68 397.64,481.39 398.75,481.08 399.86,480.78 400.97,480.47 402.08,480.16 403.19,479.84 404.30,479.53 405.41,479.21 406.52,478.89 407.63,478.56 408.74,478.23 409.85,477.89 410.96,477.54 412.07,477.19 413.18,476.83 414.29,476.47 415.40,476.10 416.51,475.71 417.62,475.32 418.73,474.92 419.84,474.51 420.95,474.09 422.06,473.66 423.17,473.21 424.28,472.75 425.39,472.28 426.50,471.80 427.61,471.27 428.72,470.68 429.83,470.02 430.94,469.32 432.05,468.58 433.16,467.81 434.27,467.03 435.38,466.23 436.49,465.43 437.60,464.65 438.71,463.88 439.82,463.15 440.93,462.44 442.04,461.74 443.15,461.05 444.26,460.36 445.37,459.68 446.48,459.01 447.59,458.34 448.70,457.67 449.81,457.00 450.92,456.33 452.03,455.66 453.14,454.99 454.25,454.31 455.36,453.62 456.47,452.92 457.58,452.22 458.69,451.50 459.80,450.77 460.91,450.03 462.02,449.27 463.13,448.50 464.24,447.70 465.35,446.89 466.46,446.06 467.57,445.20 468.68,444.31 469.79,443.40 470.90,442.46 472.01,441.50 473.12,440.51 474.23,439.51 475.34,438.49 476.45,437.46 477.56,436.40 478.67,435.34 479.78,434.27 480.89,433.18 482.00,432.09 483.11,431.00 484.22,429.90 485.33,428.79 486.44,427.69 487.55,426.59 488.66,425.49 489.77,424.40 490.88,423.31 491.99,422.23 493.10,421.16 494.21,420.09 495.32,419.02 496.43,417.94 497.54,416.85 498.65,415.76 499.76,414.67 500.87,413.57 501.98,412.47 503.09,411.37 504.20,410.26 505.31,409.16 506.42,408.05 507.53,406.95 508.64,405.84 509.75,404.74 510.86,403.64 511.97,402.54 513.08,401.45 514.19,400.36 515.30,399.27 516.41,398.19 517.52,397.12 518.63,396.05 519.74,394.99 520.85,393.93 521.96,392.87 523.07,391.81 524.18,390.76 525.29,389.71 526.40,388.66 527.51,387.61 528.62,386.57 529.73,385.53 530.84,384.49 531.95,383.45 533.06,382.41 534.17,381.38 535.28,380.35 536.39,379.32 537.50,378.29 538.61,377.27 539.72,376.24 540.83,375.22 541.94,374.20 543.05,373.18 544.16,372.17 545.27,371.15 546.38,370.14 547.49,369.14 548.60,368.14 549.71,367.15 550.82,366.16 551.93,365.17 553.04,364.19 554.15,363.21 555.26,362.22 556.37,361.24 557.48,360.26 558.59,359.27 559.70,358.28 560.81,357.27 561.92,356.24 563.03,355.19 564.14,354.14 565.25,353.09 566.36,352.06 567.47,351.06 568.58,350.11 569.69,349.20 570.80,348.37 571.91,347.58 573.02,346.83 574.13,346.11 575.24,345.42 576.35,344.75 577.46,344.10 578.57,343.47 579.68,342.84 580.79,342.23 581.90,341.61 583.01,340.97 584.12,340.31 585.23,339.67 586.34,339.08 587.45,338.59 588.56,338.24 589.67,337.98 590.78,337.75 591.89,337.54 593.00,337.38 594.11,337.25 595.22,337.18 596.33,337.14 597.44,337.10 598.55,337.06 599.66,337.04 600.77,337.01 601.88,336.99 602.99,336.98 604.10,336.97 605.21,336.97 606.32,336.96 607.43,336.96 608.54,336.95 609.65,336.95 610.76,336.95 611.87,336.94 612.98,336.94 614.09,336.94 615.20,336.93 616.31,336.93 617.42,336.93 618.53,336.92 619.64,336.92 620.75,336.92 621.86,336.92 622.97,336.91 624.08,336.91 625.19,336.91 626.30,336.91 627.41,336.91 628.52,336.90 629.63,336.90 630.74,336.90 631.85,336.90 632.96,336.90 634.07,336.89 635.18,336.89 636.29,336.89 637.40,336.89 638.51,336.89 639.62,336.88 640.73,336.88 641.84,336.88 642.95,336.88 644.06,336.88 645.17,336.87 646.28,336.87 647.39,336.87 648.50,336.87" fill="none" stroke="#2f75b6" stroke-width="1.2" stroke-linejoin="round" />
<polyline points="371.00,330.64 382.10,320.30 393.20,321.99 404.30,324.94 415.40,321.36 426.50,316.71 437.60,317.77 448.70,320.09 459.80,319.04 470.90,316.71 482.00,317.35 493.10,319.88 504.20,321.99 515.30,324.73 526.40,326.63 537.50,325.79 548.60,321.57 559.70,322.20 570.80,339.29 581.90,390.14 593.00,464.41 604.10,489.73 615.20,492.27 626.30,492.69 637.40,492.69 648.50,492.69" fill="none" stroke="#2f75b6" stroke-width="1.2" stroke-linejoin="round" />
<circle cx="371.00" cy="330.64" r="2.65" fill="#2f75b6" />
<circle cx="382.10" cy="320.30" r="2.65" fill="#2f75b6" />
<circle cx="393.20" cy="321.99" r="2.65" fill="#2f75b6" />
<circle cx="404.30" cy="324.94" r="2.65" fill="#2f75b6" />
<circle cx="415.40" cy="321.36" r="2.65" fill="#2f75b6" />
<circle cx="426.50" cy="316.71" r="2.65" fill="#2f75b6" />
<circle cx="437.60" cy="317.77" r="2.65" fill="#2f75b6" />
<circle cx="448.70" cy="320.09" r="2.65" fill="#2f75b6" />
<circle cx="459.80" cy="319.04" r="2.65" fill="#2f75b6" />
<circle cx="470.90" cy="316.71" r="2.65" fill="#2f75b6" />
<circle cx="482.00" cy="317.35" r="2.65" fill="#2f75b6" />
<circle cx="493.10" cy="319.88" r="2.65" fill="#2f75b6" />
<circle cx="504.20" cy="321.99" r="2.65" fill="#2f75b6" />
<circle cx="515.30" cy="324.73" r="2.65" fill="#2f75b6" />
<circle cx="526.40" cy="326.63" r="2.65" fill="#2f75b6" />
<circle cx="537.50" cy="325.79" r="2.65" fill="#2f75b6" />
<circle cx="548.60" cy="321.57" r="2.65" fill="#2f75b6" />
<circle cx="559.70" cy="322.20" r="2.65" fill="#2f75b6" />
<circle cx="570.80" cy="339.29" r="2.65" fill="#2f75b6" />
<circle cx="581.90" cy="390.14" r="2.65" fill="#2f75b6" />
<circle cx="593.00" cy="464.41" r="2.65" fill="#2f75b6" />
<circle cx="604.10" cy="489.73" r="2.65" fill="#2f75b6" />
<circle cx="615.20" cy="492.27" r="2.65" fill="#2f75b6" />
<circle cx="626.30" cy="492.69" r="2.65" fill="#2f75b6" />
<circle cx="637.40" cy="492.69" r="2.65" fill="#2f75b6" />
<circle cx="648.50" cy="492.69" r="2.65" fill="#2f75b6" />
<polyline points="371.00,315.66 382.10,302.37 393.20,304.27 404.30,305.95 415.40,298.36 426.50,291.18 437.60,293.72 448.70,298.78 459.80,299.41 470.90,297.30 482.00,297.51 493.10,299.83 504.20,301.31 515.30,304.27 526.40,308.27 537.50,311.44 548.60,311.44 559.70,309.12 570.80,313.34 581.90,365.03 593.00,465.68 604.10,488.05 615.20,489.52 626.30,492.06 637.40,492.06 648.50,492.06" fill="none" stroke="#c8304c" stroke-width="1.2" stroke-linejoin="round" />
<circle cx="371.00" cy="315.66" r="2.65" fill="#c8304c" />
<circle cx="382.10" cy="302.37" r="2.65" fill="#c8304c" />
<circle cx="393.20" cy="304.27" r="2.65" fill="#c8304c" />
<circle cx="404.30" cy="305.95" r="2.65" fill="#c8304c" />
<circle cx="415.40" cy="298.36" r="2.65" fill="#c8304c" />
<circle cx="426.50" cy="291.18" r="2.65" fill="#c8304c" />
<circle cx="437.60" cy="293.72" r="2.65" fill="#c8304c" />
<circle cx="448.70" cy="298.78" r="2.65" fill="#c8304c" />
<circle cx="459.80" cy="299.41" r="2.65" fill="#c8304c" />
<circle cx="470.90" cy="297.30" r="2.65" fill="#c8304c" />
<circle cx="482.00" cy="297.51" r="2.65" fill="#c8304c" />
<circle cx="493.10" cy="299.83" r="2.65" fill="#c8304c" />
<circle cx="504.20" cy="301.31" r="2.65" fill="#c8304c" />
<circle cx="515.30" cy="304.27" r="2.65" fill="#c8304c" />
<circle cx="526.40" cy="308.27" r="2.65" fill="#c8304c" />
<circle cx="537.50" cy="311.44" r="2.65" fill="#c8304c" />
<circle cx="548.60" cy="311.44" r="2.65" fill="#c8304c" />
<circle cx="559.70" cy="309.12" r="2.65" fill="#c8304c" />
<circle cx="570.80" cy="313.34" r="2.65" fill="#c8304c" />
<circle cx="581.90" cy="365.03" r="2.65" fill="#c8304c" />
<circle cx="593.00" cy="465.68" r="2.65" fill="#c8304c" />
<circle cx="604.10" cy="488.05" r="2.65" fill="#c8304c" />
<circle cx="615.20" cy="489.52" r="2.65" fill="#c8304c" />
<circle cx="626.30" cy="492.06" r="2.65" fill="#c8304c" />
<circle cx="637.40" cy="492.06" r="2.65" fill="#c8304c" />
<circle cx="648.50" cy="492.06" r="2.65" fill="#c8304c" />
<rect x="371.00" y="281.90" width="277.50" height="211.00" fill="none" stroke="#000" stroke-width="1.1"/>
<line x1="371.00" y1="492.90" x2="371.00" y2="496.90" stroke="#000" stroke-width="1.1" />
<line x1="426.50" y1="492.90" x2="426.50" y2="496.90" stroke="#000" stroke-width="1.1" />
<line x1="482.00" y1="492.90" x2="482.00" y2="496.90" stroke="#000" stroke-width="1.1" />
<line x1="537.50" y1="492.90" x2="537.50" y2="496.90" stroke="#000" stroke-width="1.1" />
<line x1="593.00" y1="492.90" x2="593.00" y2="496.90" stroke="#000" stroke-width="1.1" />
<line x1="648.50" y1="492.90" x2="648.50" y2="496.90" stroke="#000" stroke-width="1.1" />
<line x1="398.75" y1="492.90" x2="398.75" y2="495.10" stroke="#000" stroke-width="1.1" />
<line x1="454.25" y1="492.90" x2="454.25" y2="495.10" stroke="#000" stroke-width="1.1" />
<line x1="509.75" y1="492.90" x2="509.75" y2="495.10" stroke="#000" stroke-width="1.1" />
<line x1="565.25" y1="492.90" x2="565.25" y2="495.10" stroke="#000" stroke-width="1.1" />
<line x1="620.75" y1="492.90" x2="620.75" y2="495.10" stroke="#000" stroke-width="1.1" />
<text x="371.00" y="507.00" font-size="13.4" fill="#000" text-anchor="middle" font-weight="bold" dominant-baseline="central" >350</text>
<text x="426.50" y="507.00" font-size="13.4" fill="#000" text-anchor="middle" font-weight="bold" dominant-baseline="central" >400</text>
<text x="482.00" y="507.00" font-size="13.4" fill="#000" text-anchor="middle" font-weight="bold" dominant-baseline="central" >450</text>
<text x="537.50" y="507.00" font-size="13.4" fill="#000" text-anchor="middle" font-weight="bold" dominant-baseline="central" >500</text>
<text x="593.00" y="507.00" font-size="13.4" fill="#000" text-anchor="middle" font-weight="bold" dominant-baseline="central" >550</text>
<text x="648.50" y="507.00" font-size="13.4" fill="#000" text-anchor="middle" font-weight="bold" dominant-baseline="central" >600</text>
<line x1="371.00" y1="492.90" x2="367.00" y2="492.90" stroke="#000" stroke-width="1.1" />
<line x1="371.00" y1="450.70" x2="367.00" y2="450.70" stroke="#000" stroke-width="1.1" />
<line x1="371.00" y1="408.50" x2="367.00" y2="408.50" stroke="#000" stroke-width="1.1" />
<line x1="371.00" y1="366.30" x2="367.00" y2="366.30" stroke="#000" stroke-width="1.1" />
<line x1="371.00" y1="324.10" x2="367.00" y2="324.10" stroke="#000" stroke-width="1.1" />
<line x1="371.00" y1="281.90" x2="367.00" y2="281.90" stroke="#000" stroke-width="1.1" />
<line x1="371.00" y1="471.80" x2="368.80" y2="471.80" stroke="#000" stroke-width="1.1" />
<line x1="371.00" y1="429.60" x2="368.80" y2="429.60" stroke="#000" stroke-width="1.1" />
<line x1="371.00" y1="387.40" x2="368.80" y2="387.40" stroke="#000" stroke-width="1.1" />
<line x1="371.00" y1="345.20" x2="368.80" y2="345.20" stroke="#000" stroke-width="1.1" />
<line x1="371.00" y1="303.00" x2="368.80" y2="303.00" stroke="#000" stroke-width="1.1" />
<text x="365.50" y="492.90" font-size="13.4" fill="#000" text-anchor="end" font-weight="bold" dominant-baseline="central" >0</text>
<text x="365.50" y="450.70" font-size="13.4" fill="#000" text-anchor="end" font-weight="bold" dominant-baseline="central" >20</text>
<text x="365.50" y="408.50" font-size="13.4" fill="#000" text-anchor="end" font-weight="bold" dominant-baseline="central" >40</text>
<text x="365.50" y="366.30" font-size="13.4" fill="#000" text-anchor="end" font-weight="bold" dominant-baseline="central" >60</text>
<text x="365.50" y="324.10" font-size="13.4" fill="#000" text-anchor="end" font-weight="bold" dominant-baseline="central" >80</text>
<text x="365.50" y="281.90" font-size="13.4" fill="#000" text-anchor="end" font-weight="bold" dominant-baseline="central" >100</text>
<line x1="648.50" y1="492.90" x2="652.50" y2="492.90" stroke="#000" stroke-width="1.1" />
<line x1="648.50" y1="450.70" x2="652.50" y2="450.70" stroke="#000" stroke-width="1.1" />
<line x1="648.50" y1="408.50" x2="652.50" y2="408.50" stroke="#000" stroke-width="1.1" />
<line x1="648.50" y1="366.30" x2="652.50" y2="366.30" stroke="#000" stroke-width="1.1" />
<line x1="648.50" y1="324.10" x2="652.50" y2="324.10" stroke="#000" stroke-width="1.1" />
<line x1="648.50" y1="281.90" x2="652.50" y2="281.90" stroke="#000" stroke-width="1.1" />
<line x1="648.50" y1="471.80" x2="650.70" y2="471.80" stroke="#000" stroke-width="1.1" />
<line x1="648.50" y1="429.60" x2="650.70" y2="429.60" stroke="#000" stroke-width="1.1" />
<line x1="648.50" y1="387.40" x2="650.70" y2="387.40" stroke="#000" stroke-width="1.1" />
<line x1="648.50" y1="345.20" x2="650.70" y2="345.20" stroke="#000" stroke-width="1.1" />
<line x1="648.50" y1="303.00" x2="650.70" y2="303.00" stroke="#000" stroke-width="1.1" />
<text x="651.30" y="492.90" font-size="13.4" fill="#000" text-anchor="start" font-weight="bold" dominant-baseline="central" >0</text>
<text x="651.30" y="450.70" font-size="13.4" fill="#000" text-anchor="start" font-weight="bold" dominant-baseline="central" >2</text>
<text x="651.30" y="408.50" font-size="13.4" fill="#000" text-anchor="start" font-weight="bold" dominant-baseline="central" >4</text>
<text x="651.30" y="366.30" font-size="13.4" fill="#000" text-anchor="start" font-weight="bold" dominant-baseline="central" >6</text>
<text x="651.30" y="324.10" font-size="13.4" fill="#000" text-anchor="start" font-weight="bold" dominant-baseline="central" >8</text>
<text x="651.30" y="281.90" font-size="13.4" fill="#000" text-anchor="start" font-weight="bold" dominant-baseline="central" >10</text>
<text x="509.40" y="525.50" font-size="13.4" fill="#000" text-anchor="middle" font-weight="bold" dominant-baseline="central" >Wavelength (nm)</text>
<text x="335.40" y="388.00" font-size="13.4" fill="#000" text-anchor="middle" font-weight="bold" dominant-baseline="central" transform="rotate(-90 335.40 388.00)" >IPCE (%)</text>
<text x="675.40" y="388.40" font-size="12.35" fill="#000" text-anchor="middle" font-weight="bold" dominant-baseline="central" transform="rotate(-90 675.40 388.40)" >Integrated current density (mA cm<tspan dy="-4.69" font-size="8.64">-2</tspan><tspan dy="4.69">​</tspan>)</text>
<line x1="373.20" y1="344.20" x2="390.50" y2="344.20" stroke="#c8304c" stroke-width="1.2" />
<line x1="373.20" y1="353.90" x2="390.50" y2="353.90" stroke="#2f75b6" stroke-width="1.2" />
<line x1="373.20" y1="363.20" x2="390.50" y2="363.20" stroke="#c8304c" stroke-width="1.2" />
<circle cx="381.80" cy="363.20" r="2.65" fill="#c8304c" />
<line x1="373.20" y1="373.10" x2="390.50" y2="373.10" stroke="#2f75b6" stroke-width="1.2" />
<circle cx="381.80" cy="373.10" r="2.65" fill="#2f75b6" />
<text x="392.90" y="344.50" font-size="7.7" fill="#000" text-anchor="start" dominant-baseline="central" >Integrated current density (1.23 V vs. RHE)</text>
<text x="392.90" y="354.20" font-size="7.7" fill="#000" text-anchor="start" dominant-baseline="central" >Integrated current density (0.23 V vs. RHE)</text>
<text x="392.90" y="363.50" font-size="7.7" fill="#000" text-anchor="start" dominant-baseline="central" >IPCE (1.23 V vs. RHE)</text>
<text x="392.90" y="373.40" font-size="7.7" fill="#000" text-anchor="start" dominant-baseline="central" >IPCE (0.23 V vs. RHE)</text>
<text x="4.80" y="551.30" font-size="20.5" fill="#231815" text-anchor="start" font-weight="bold" dominant-baseline="auto" >e</text>
<ellipse cx="74.20" cy="599.20" rx="31.00" ry="12.80" transform="rotate(45.30 74.20 599.20)" fill="none" stroke="#e0282a" stroke-width="0.8"/>
<ellipse cx="226.50" cy="654.50" rx="96.00" ry="25.50" transform="rotate(79.00 226.50 654.50)" fill="none" stroke="#4472c4" stroke-width="0.8"/>
<ellipse cx="290.30" cy="710.20" rx="48.80" ry="13.50" transform="rotate(69.00 290.30 710.20)" fill="none" stroke="#2a2a2a" stroke-width="0.7"/>
<ellipse cx="178.10" cy="711.90" rx="30.40" ry="12.80" transform="rotate(39.00 178.10 711.90)" fill="none" stroke="#f5a47c" stroke-width="0.65"/>
<circle cx="57.60" cy="577.70" r="2.55" fill="#e0282a" />
<circle cx="61.30" cy="580.20" r="2.55" fill="#e0282a" />
<circle cx="72.00" cy="586.40" r="2.55" fill="#e0282a" />
<circle cx="57.80" cy="589.60" r="2.55" fill="#e0282a" />
<circle cx="70.00" cy="596.60" r="2.55" fill="#e0282a" />
<circle cx="80.70" cy="596.60" r="2.55" fill="#e0282a" />
<circle cx="72.00" cy="607.50" r="2.55" fill="#e0282a" />
<circle cx="90.10" cy="604.50" r="2.55" fill="#e0282a" />
<circle cx="91.30" cy="612.00" r="2.55" fill="#e0282a" />
<circle cx="84.40" cy="618.60" r="2.55" fill="#e0282a" />
<circle cx="88.90" cy="618.10" r="2.55" fill="#e0282a" />
<circle cx="207.80" cy="563.80" r="2.75" fill="#4472c4" />
<circle cx="226.10" cy="639.30" r="2.75" fill="#4472c4" />
<circle cx="212.70" cy="668.00" r="2.75" fill="#4472c4" />
<circle cx="230.70" cy="676.00" r="2.75" fill="#4472c4" />
<circle cx="189.40" cy="687.90" r="2.75" fill="#4472c4" />
<circle cx="245.20" cy="689.50" r="2.75" fill="#4472c4" />
<circle cx="234.20" cy="735.90" r="2.75" fill="#4472c4" />
<circle cx="282.60" cy="739.40" r="2.75" fill="#4472c4" />
<circle cx="269.30" cy="666.80" r="2.6" fill="#2a2a2a" />
<circle cx="282.80" cy="687.60" r="2.6" fill="#2a2a2a" />
<circle cx="284.50" cy="691.80" r="2.6" fill="#2a2a2a" />
<circle cx="275.80" cy="694.20" r="2.6" fill="#2a2a2a" />
<circle cx="300.30" cy="727.70" r="2.6" fill="#2a2a2a" />
<circle cx="305.00" cy="749.50" r="2.6" fill="#2a2a2a" />
<circle cx="210.40" cy="746.00" r="2.75" fill="#8a00f0" />
<circle cx="160.70" cy="701.50" r="2.75" fill="#f2804c" />
<circle cx="169.90" cy="698.60" r="2.75" fill="#f2804c" />
<circle cx="174.70" cy="700.40" r="2.75" fill="#f2804c" />
<circle cx="174.70" cy="719.60" r="2.75" fill="#f2804c" />
<circle cx="178.70" cy="722.30" r="2.75" fill="#f2804c" />
<circle cx="196.60" cy="719.00" r="2.75" fill="#f2804c" />
<line x1="175.40" y1="686.30" x2="175.40" y2="693.80" stroke="#f2804c" stroke-width="0.9" />
<polygon points="175.40,696.50 173.60,693.30 177.20,693.30" fill="#f2804c"/>
<line x1="156.50" y1="690.60" x2="164.06" y2="695.69" stroke="#f2804c" stroke-width="0.9" />
<polygon points="166.30,697.20 162.64,696.91 164.65,693.92" fill="#f2804c"/>
<line x1="197.30" y1="732.30" x2="197.30" y2="725.10" stroke="#f2804c" stroke-width="0.9" />
<polygon points="197.30,722.40 199.10,725.60 195.50,725.60" fill="#f2804c"/>
<line x1="209.20" y1="656.40" x2="211.19" y2="662.72" stroke="#4472c4" stroke-width="0.9" />
<polygon points="212.00,665.30 209.32,662.79 212.76,661.71" fill="#4472c4"/>
<line x1="270.50" y1="751.50" x2="278.45" y2="743.87" stroke="#4472c4" stroke-width="0.9" />
<polygon points="280.40,742.00 279.34,745.51 276.84,742.92" fill="#4472c4"/>
<line x1="287.50" y1="680.80" x2="284.77" y2="683.65" stroke="#2a2a2a" stroke-width="0.9" />
<polygon points="282.90,685.60 283.81,682.04 286.41,684.54" fill="#2a2a2a"/>
<line x1="275.80" y1="706.60" x2="275.80" y2="700.00" stroke="#2a2a2a" stroke-width="0.9" />
<polygon points="275.80,697.30 277.60,700.50 274.00,700.50" fill="#2a2a2a"/>
<text x="53.40" y="558.00" font-size="8.1" fill="#000" text-anchor="start" font-weight="bold" dominant-baseline="central" >Best device </text>
<text x="100.50" y="557.80" font-size="9.3" fill="#e0282a" text-anchor="start" dominant-baseline="central" >8.5% @ 0.08 V</text>
<text x="53.40" y="568.00" font-size="8.2" fill="#000" text-anchor="start" font-weight="bold" dominant-baseline="central" >FAPbBr<tspan dy="2.30" font-size="5.33">3</tspan><tspan dy="-2.30">​</tspan>/NiFe alloy/NiFe LDH</text>
<text x="57.60" y="632.30" font-size="9.3" fill="#e0282a" text-anchor="start" font-weight="bold" dominant-baseline="central" >E<tspan dy="2.60" font-size="6.05">g</tspan><tspan dy="-2.60">​</tspan> ≈ 2.3 eV</text>
<text x="131.40" y="670.20" font-size="9.3" fill="#f2804c" text-anchor="start" font-weight="bold" dominant-baseline="central" >E<tspan dy="2.60" font-size="6.05">g</tspan><tspan dy="-2.60">​</tspan> ≈ 2.4 eV</text>
<text x="184.00" y="609.60" font-size="9.3" fill="#4472c4" text-anchor="start" font-weight="bold" dominant-baseline="central" >E<tspan dy="2.60" font-size="6.05">g</tspan><tspan dy="-2.60">​</tspan> ≈ 1.5 - 1.6 eV</text>
<text x="263.00" y="650.70" font-size="9.3" fill="#000" text-anchor="start" font-weight="bold" dominant-baseline="central" >E<tspan dy="2.60" font-size="6.05">g</tspan><tspan dy="-2.60">​</tspan> ≈ 1.1 eV</text>
<text x="212.50" y="564.20" font-size="6.3" fill="#4472c4" text-anchor="start" dominant-baseline="central" >FA<tspan dy="1.76" font-size="4.09">0.93</tspan><tspan dy="-1.76">​</tspan>MA<tspan dy="1.76" font-size="4.09">0.07</tspan><tspan dy="-1.76">​</tspan>PbI<tspan dy="1.76" font-size="4.09">3</tspan><tspan dy="-1.76">​</tspan>/NF.3D Ni.NiFe</text>
<text x="230.30" y="640.20" font-size="6.3" fill="#4472c4" text-anchor="start" dominant-baseline="central" >FA<tspan dy="1.76" font-size="4.09">0.83</tspan><tspan dy="-1.76">​</tspan>Cs<tspan dy="1.76" font-size="4.09">0.17</tspan><tspan dy="-1.76">​</tspan>Pb(I<tspan dy="1.76" font-size="4.09">0.8</tspan><tspan dy="-1.76">​</tspan>Br<tspan dy="1.76" font-size="4.09">0.2</tspan><tspan dy="-1.76">​</tspan>)<tspan dy="1.76" font-size="4.09">3</tspan><tspan dy="-1.76">​</tspan>/Ni</text>
<text x="152.50" y="651.90" font-size="6.3" fill="#4472c4" text-anchor="start" dominant-baseline="central" >FA<tspan dy="1.76" font-size="4.09">0.80</tspan><tspan dy="-1.76">​</tspan>MA<tspan dy="1.76" font-size="4.09">0.15</tspan><tspan dy="-1.76">​</tspan>Ca<tspan dy="1.76" font-size="4.09">0.05</tspan><tspan dy="-1.76">​</tspan>PbI<tspan dy="1.76" font-size="4.09">2.55</tspan><tspan dy="-1.76">​</tspan>Br<tspan dy="1.76" font-size="4.09">0.45</tspan><tspan dy="-1.76">​</tspan>/FeNi(OH)<tspan dy="1.76" font-size="4.09">x</tspan><tspan dy="-1.76">​</tspan></text>
<text x="233.50" y="676.20" font-size="6.3" fill="#4472c4" text-anchor="start" dominant-baseline="central" >MAPbI<tspan dy="1.76" font-size="4.09">3</tspan><tspan dy="-1.76">​</tspan>/Ni</text>
<text x="192.70" y="688.50" font-size="6.3" fill="#4472c4" text-anchor="start" dominant-baseline="central" >CsPbBr<tspan dy="1.76" font-size="4.09">3</tspan><tspan dy="-1.76">​</tspan>/NiFeOOH</text>
<text x="231.90" y="696.20" font-size="6.3" fill="#4472c4" text-anchor="start" dominant-baseline="central" >MAPbI<tspan dy="1.76" font-size="4.09">3</tspan><tspan dy="-1.76">​</tspan>/Ni</text>
<text x="237.70" y="736.60" font-size="6.3" fill="#4472c4" text-anchor="start" dominant-baseline="central" >CsPbBr<tspan dy="1.76" font-size="4.09">3</tspan><tspan dy="-1.76">​</tspan>/Ir WOC</text>
<text x="202.20" y="753.60" font-size="6.3" fill="#4472c4" text-anchor="start" dominant-baseline="central" >(5-AVA)<tspan dy="1.76" font-size="4.09">x</tspan><tspan dy="-1.76">​</tspan>(MA)<tspan dy="1.76" font-size="4.09">1-x</tspan><tspan dy="-1.76">​</tspan>PbI<tspan dy="1.76" font-size="4.09">3</tspan><tspan dy="-1.76">​</tspan>/Carbon</text>
<text x="265.80" y="661.20" font-size="6.3" fill="#2a2a2a" text-anchor="start" dominant-baseline="central" >n<tspan dy="-2.39" font-size="4.41">+</tspan><tspan dy="2.39">​</tspan>p-Si/NiFe-LDH</text>
<text x="269.30" y="678.70" font-size="6.3" fill="#2a2a2a" text-anchor="start" dominant-baseline="central" >np<tspan dy="-2.39" font-size="4.41">+</tspan><tspan dy="2.39">​</tspan>-Si/NiO<tspan dy="1.76" font-size="4.09">x</tspan><tspan dy="-1.76">​</tspan>/NiFe</text>
<text x="286.80" y="692.00" font-size="6.3" fill="#2a2a2a" text-anchor="start" dominant-baseline="central" >n-Si/NiFe</text>
<text x="260.60" y="710.00" font-size="6.3" fill="#2a2a2a" text-anchor="start" dominant-baseline="central" >n-Si/Ni/NiO<tspan dy="1.76" font-size="4.09">x</tspan><tspan dy="-1.76">​</tspan>/NiOOH</text>
<text x="242.90" y="728.40" font-size="6.3" fill="#2a2a2a" text-anchor="start" dominant-baseline="central" >n-Si/Ni/NiOOH/NiFe</text>
<text x="284.50" y="744.80" font-size="6.3" fill="#2a2a2a" text-anchor="start" dominant-baseline="central" >n-Si/NiFeP</text>
<text x="126.90" y="681.20" font-size="6.3" fill="#f2804c" text-anchor="start" dominant-baseline="central" >BiVO<tspan dy="1.76" font-size="4.09">4</tspan><tspan dy="-1.76">​</tspan>/Co<tspan dy="1.76" font-size="4.09">3</tspan><tspan dy="-1.76">​</tspan>O<tspan dy="1.76" font-size="4.09">4</tspan><tspan dy="-1.76">​</tspan>/FeOOH/NiOOH</text>
<text x="118.20" y="690.90" font-size="6.3" fill="#f2804c" text-anchor="start" dominant-baseline="central" >BiVO<tspan dy="1.76" font-size="4.09">4</tspan><tspan dy="-1.76">​</tspan>/NiFeO<tspan dy="1.76" font-size="4.09">x</tspan><tspan dy="-1.76">​</tspan></text>
<text x="94.60" y="701.70" font-size="6.3" fill="#f2804c" text-anchor="start" dominant-baseline="central" >BiVO<tspan dy="1.76" font-size="4.09">4</tspan><tspan dy="-1.76">​</tspan>/Ni-N<tspan dy="1.76" font-size="4.09">4</tspan><tspan dy="-1.76">​</tspan>-O/FeOOH</text>
<text x="123.50" y="720.60" font-size="6.3" fill="#f2804c" text-anchor="start" dominant-baseline="central" >BiVO<tspan dy="1.76" font-size="4.09">4</tspan><tspan dy="-1.76">​</tspan>/Co@CB[8]</text>
<text x="123.50" y="729.00" font-size="6.3" fill="#f2804c" text-anchor="start" dominant-baseline="central" >BiVO<tspan dy="1.76" font-size="4.09">4</tspan><tspan dy="-1.76">​</tspan>/g-C<tspan dy="1.76" font-size="4.09">3</tspan><tspan dy="-1.76">​</tspan>N<tspan dy="1.76" font-size="4.09">4</tspan><tspan dy="-1.76">​</tspan>/CoOOH</text>
<text x="226.00" y="736.60" font-size="6.3" fill="#f2804c" text-anchor="end" dominant-baseline="central" >BiVO<tspan dy="1.76" font-size="4.09">4</tspan><tspan dy="-1.76">​</tspan>/Co<tspan dy="1.76" font-size="4.09">3</tspan><tspan dy="-1.76">​</tspan>O<tspan dy="1.76" font-size="4.09">4</tspan><tspan dy="-1.76">​</tspan> cubane</text>
<text x="207.00" y="746.60" font-size="6.3" fill="#8a00f0" text-anchor="end" dominant-baseline="central" >FTO/mZnO/BHJ/PTAA/LIO</text>
<circle cx="44.70" cy="716.50" r="2.9" fill="#f2804c" />
<text x="54.70" y="716.70" font-size="7.0" fill="#111" text-anchor="start" dominant-baseline="central" >BiVO<tspan dy="1.96" font-size="4.55">4</tspan><tspan dy="-1.96">​</tspan> photoanodes</text>
<circle cx="44.70" cy="726.50" r="2.9" fill="#2a2a2a" />
<text x="54.70" y="726.70" font-size="7.0" fill="#111" text-anchor="start" dominant-baseline="central" >n-Si photoanodes</text>
<circle cx="44.70" cy="735.40" r="2.9" fill="#4472c4" />
<text x="54.70" y="735.60" font-size="7.0" fill="#111" text-anchor="start" dominant-baseline="central" >Other Perovskite photoanodes</text>
<circle cx="44.70" cy="744.10" r="2.9" fill="#8a00f0" />
<text x="54.70" y="744.30" font-size="7.0" fill="#111" text-anchor="start" dominant-baseline="central" >BHJ photoanode</text>
<circle cx="44.70" cy="752.50" r="2.9" fill="#e0282a" />
<text x="54.70" y="752.70" font-size="7.0" fill="#111" text-anchor="start" dominant-baseline="central" >FAPbBr<tspan dy="1.96" font-size="4.55">3</tspan><tspan dy="-1.96">​</tspan> photoanodes</text>
<rect x="39.40" y="546.20" width="277.00" height="211.60" fill="none" stroke="#000" stroke-width="1.1"/>
<line x1="39.40" y1="757.80" x2="39.40" y2="761.80" stroke="#000" stroke-width="1.1" />
<line x1="84.54" y1="757.80" x2="84.54" y2="761.80" stroke="#000" stroke-width="1.1" />
<line x1="129.68" y1="757.80" x2="129.68" y2="761.80" stroke="#000" stroke-width="1.1" />
<line x1="174.82" y1="757.80" x2="174.82" y2="761.80" stroke="#000" stroke-width="1.1" />
<line x1="219.96" y1="757.80" x2="219.96" y2="761.80" stroke="#000" stroke-width="1.1" />
<line x1="265.10" y1="757.80" x2="265.10" y2="761.80" stroke="#000" stroke-width="1.1" />
<line x1="310.24" y1="757.80" x2="310.24" y2="761.80" stroke="#000" stroke-width="1.1" />
<line x1="61.97" y1="757.80" x2="61.97" y2="760.00" stroke="#000" stroke-width="1.1" />
<line x1="107.11" y1="757.80" x2="107.11" y2="760.00" stroke="#000" stroke-width="1.1" />
<line x1="152.25" y1="757.80" x2="152.25" y2="760.00" stroke="#000" stroke-width="1.1" />
<line x1="197.39" y1="757.80" x2="197.39" y2="760.00" stroke="#000" stroke-width="1.1" />
<line x1="242.53" y1="757.80" x2="242.53" y2="760.00" stroke="#000" stroke-width="1.1" />
<line x1="287.67" y1="757.80" x2="287.67" y2="760.00" stroke="#000" stroke-width="1.1" />
<text x="39.40" y="771.30" font-size="13.4" fill="#000" text-anchor="middle" font-weight="bold" dominant-baseline="central" >0.0</text>
<text x="84.54" y="771.30" font-size="13.4" fill="#000" text-anchor="middle" font-weight="bold" dominant-baseline="central" >0.2</text>
<text x="129.68" y="771.30" font-size="13.4" fill="#000" text-anchor="middle" font-weight="bold" dominant-baseline="central" >0.4</text>
<text x="174.82" y="771.30" font-size="13.4" fill="#000" text-anchor="middle" font-weight="bold" dominant-baseline="central" >0.6</text>
<text x="219.96" y="771.30" font-size="13.4" fill="#000" text-anchor="middle" font-weight="bold" dominant-baseline="central" >0.8</text>
<text x="265.10" y="771.30" font-size="13.4" fill="#000" text-anchor="middle" font-weight="bold" dominant-baseline="central" >1.0</text>
<text x="310.24" y="771.30" font-size="13.4" fill="#000" text-anchor="middle" font-weight="bold" dominant-baseline="central" >1.2</text>
<line x1="39.40" y1="757.80" x2="35.40" y2="757.80" stroke="#000" stroke-width="1.1" />
<line x1="39.40" y1="715.48" x2="35.40" y2="715.48" stroke="#000" stroke-width="1.1" />
<line x1="39.40" y1="673.16" x2="35.40" y2="673.16" stroke="#000" stroke-width="1.1" />
<line x1="39.40" y1="630.84" x2="35.40" y2="630.84" stroke="#000" stroke-width="1.1" />
<line x1="39.40" y1="588.52" x2="35.40" y2="588.52" stroke="#000" stroke-width="1.1" />
<line x1="39.40" y1="546.20" x2="35.40" y2="546.20" stroke="#000" stroke-width="1.1" />
<line x1="39.40" y1="736.64" x2="37.20" y2="736.64" stroke="#000" stroke-width="1.1" />
<line x1="39.40" y1="694.32" x2="37.20" y2="694.32" stroke="#000" stroke-width="1.1" />
<line x1="39.40" y1="652.00" x2="37.20" y2="652.00" stroke="#000" stroke-width="1.1" />
<line x1="39.40" y1="609.68" x2="37.20" y2="609.68" stroke="#000" stroke-width="1.1" />
<line x1="39.40" y1="567.36" x2="37.20" y2="567.36" stroke="#000" stroke-width="1.1" />
<text x="32.50" y="757.80" font-size="13.4" fill="#000" text-anchor="end" font-weight="bold" dominant-baseline="central" >0</text>
<text x="32.50" y="715.48" font-size="13.4" fill="#000" text-anchor="end" font-weight="bold" dominant-baseline="central" >2</text>
<text x="32.50" y="673.16" font-size="13.4" fill="#000" text-anchor="end" font-weight="bold" dominant-baseline="central" >4</text>
<text x="32.50" y="630.84" font-size="13.4" fill="#000" text-anchor="end" font-weight="bold" dominant-baseline="central" >6</text>
<text x="32.50" y="588.52" font-size="13.4" fill="#000" text-anchor="end" font-weight="bold" dominant-baseline="central" >8</text>
<text x="32.50" y="546.20" font-size="13.4" fill="#000" text-anchor="end" font-weight="bold" dominant-baseline="central" >10</text>
<text x="178.50" y="789.70" font-size="13.3" fill="#000" text-anchor="middle" font-weight="bold" dominant-baseline="central" ><tspan font-style="italic">E</tspan> (V vs. RHE)</text>
<text x="7.60" y="652.00" font-size="13.4" fill="#000" text-anchor="middle" font-weight="bold" dominant-baseline="central" transform="rotate(-90 7.60 652.00)" >ABPE (%)</text>
<text x="332.40" y="550.60" font-size="20.5" fill="#231815" text-anchor="start" font-weight="bold" dominant-baseline="auto" >f</text>
<text x="649.00" y="539.90" font-size="9.7" fill="#000" text-anchor="end" dominant-baseline="central" >#Hole transport materials-free device</text>
<line x1="371.00" y1="651.30" x2="509.75" y2="546.10" stroke="#606060" stroke-width="1.1" />
<line x1="371.00" y1="677.60" x2="544.44" y2="546.10" stroke="#606060" stroke-width="1.1" />
<line x1="408.46" y1="756.50" x2="648.50" y2="574.50" stroke="#606060" stroke-width="1.1" />
<line x1="371.00" y1="627.30" x2="648.50" y2="627.30" stroke="#555" stroke-width="0.9" stroke-dasharray="1.3,1.3"/>
<text x="373.40" y="621.50" font-size="10.3" fill="#999" text-anchor="start" dominant-baseline="central" >H<tspan dy="2.88" font-size="6.70">2</tspan><tspan dy="-2.88">​</tspan>O/O<tspan dy="2.88" font-size="6.70">2</tspan><tspan dy="-2.88">​</tspan></text>
<text x="446.30" y="557.20" font-size="10.1" fill="#b4b4b4" text-anchor="start" dominant-baseline="central" >Band gap</text>
<text x="534.90" y="557.20" font-size="10.1" fill="#b4b4b4" text-anchor="start" dominant-baseline="central" >SQ limit</text>
<text x="608.40" y="611.40" font-size="10.1" fill="#b4b4b4" text-anchor="start" dominant-baseline="central" >SQ - 1V</text>
<ellipse cx="445.50" cy="696.00" rx="37.50" ry="21.50" transform="rotate(107.00 445.50 696.00)" fill="none" stroke="#e8707a" stroke-width="0.7"/>
<ellipse cx="559.50" cy="685.00" rx="76.20" ry="29.50" transform="rotate(-20.10 559.50 685.00)" fill="none" stroke="#a8c8e8" stroke-width="0.8"/>
<circle cx="481.90" cy="602.70" r="3.0" fill="#111" />
<circle cx="458.70" cy="625.90" r="3.0" fill="#111" />
<circle cx="429.40" cy="639.10" r="3.0" fill="#111" />
<circle cx="440.20" cy="641.40" r="3.0" fill="#111" />
<circle cx="384.80" cy="681.20" r="3.0" fill="#111" />
<circle cx="536.80" cy="612.40" r="3.9" fill="#f29050" />
<circle cx="514.90" cy="648.90" r="3.0" fill="#8a00f0" />
<circle cx="564.90" cy="651.80" r="3.0" fill="#4a7cc4" />
<circle cx="620.00" cy="668.90" r="3.0" fill="#4a7cc4" />
<circle cx="523.40" cy="674.70" r="3.0" fill="#4a7cc4" />
<circle cx="523.40" cy="685.70" r="3.0" fill="#4a7cc4" />
<circle cx="492.60" cy="701.50" r="3.0" fill="#4a7cc4" />
<circle cx="509.70" cy="712.00" r="3.0" fill="#4a7cc4" />
<circle cx="550.90" cy="669.90" r="3.0" fill="#d9302c" />
<circle cx="550.90" cy="685.70" r="3.0" fill="#d9302c" />
<circle cx="440.20" cy="679.00" r="3.0" fill="#d9302c" />
<circle cx="447.20" cy="680.30" r="3.0" fill="#d9302c" />
<circle cx="440.20" cy="688.80" r="3.0" fill="#d9302c" />
<circle cx="462.40" cy="683.70" r="3.0" fill="#d9302c" />
<circle cx="440.20" cy="726.80" r="3.0" fill="#d9302c" />
<circle cx="450.30" cy="669.60" r="3.8" fill="#d9302c" />
<circle cx="447.30" cy="672.60" r="3.8" fill="#d9302c" />
<line x1="436.50" y1="666.30" x2="442.84" y2="670.45" stroke="#d9302c" stroke-width="0.8" />
<polygon points="444.60,671.60 441.60,671.43 443.25,668.92" fill="#d9302c"/>
<line x1="454.50" y1="659.50" x2="452.51" y2="663.16" stroke="#d9302c" stroke-width="0.8" />
<polygon points="451.50,665.00 451.43,662.00 454.06,663.44" fill="#d9302c"/>
<line x1="465.50" y1="672.00" x2="463.86" y2="677.00" stroke="#d9302c" stroke-width="0.8" />
<polygon points="463.20,679.00 462.59,676.06 465.44,677.00" fill="#d9302c"/>
<line x1="447.30" y1="693.50" x2="447.30" y2="686.60" stroke="#d9302c" stroke-width="0.9" />
<polygon points="447.30,684.30 448.90,687.10 445.70,687.10" fill="#d9302c"/>
<text x="486.50" y="602.90" font-size="7.2" fill="#000" text-anchor="start" dominant-baseline="central" >GaInP</text>
<text x="462.60" y="623.80" font-size="7.2" fill="#000" text-anchor="start" dominant-baseline="central" >Perovskite</text>
<text x="462.60" y="633.50" font-size="7.2" fill="#000" text-anchor="start" dominant-baseline="central" >(narrow band gap)</text>
<text x="427.00" y="639.30" font-size="7.2" fill="#000" text-anchor="end" dominant-baseline="central" >GaAs</text>
<text x="443.60" y="641.60" font-size="7.2" fill="#000" text-anchor="start" dominant-baseline="central" >CdTe</text>
<text x="389.00" y="681.40" font-size="7.2" fill="#000" text-anchor="start" dominant-baseline="central" >Si</text>
<text x="542.60" y="602.50" font-size="8.3" fill="#f29050" text-anchor="start" font-weight="bold" dominant-baseline="central" >(This work)</text>
<text x="543.0" y="612.6" font-size="8.6" font-weight="bold" dominant-baseline="central" fill="#f29050">FAPbBr<tspan dy="2.4" font-size="5.6">3</tspan><tspan dy="-2.4" fill="#000"> #</tspan></text>
<text x="486.60" y="642.00" font-size="6.2" fill="#8a00f0" text-anchor="start" dominant-baseline="central" >PNDITCVT/PBDTTTPD</text>
<text x="569.30" y="652.00" font-size="7.6" fill="#4a7cc4" text-anchor="start" dominant-baseline="central" >BiVO<tspan dy="2.13" font-size="4.94">4</tspan><tspan dy="-2.13">​</tspan></text>
<text x="624.00" y="669.10" font-size="7.6" fill="#4a7cc4" text-anchor="start" dominant-baseline="central" >WO<tspan dy="2.13" font-size="4.94">3</tspan><tspan dy="-2.13">​</tspan></text>
<text x="527.80" y="674.90" font-size="7.6" fill="#4a7cc4" text-anchor="start" dominant-baseline="central" >Fe<tspan dy="2.13" font-size="4.94">2</tspan><tspan dy="-2.13">​</tspan>O<tspan dy="2.13" font-size="4.94">3</tspan><tspan dy="-2.13">​</tspan></text>
<text x="527.80" y="685.90" font-size="7.6" fill="#4a7cc4" text-anchor="start" dominant-baseline="central" >Ta<tspan dy="2.13" font-size="4.94">3</tspan><tspan dy="-2.13">​</tspan>N<tspan dy="2.13" font-size="4.94">5</tspan><tspan dy="-2.13">​</tspan></text>
<text x="497.10" y="701.70" font-size="7.6" fill="#4a7cc4" text-anchor="start" dominant-baseline="central" >BaTaO<tspan dy="2.13" font-size="4.94">2</tspan><tspan dy="-2.13">​</tspan>N</text>
<text x="514.20" y="712.20" font-size="7.6" fill="#4a7cc4" text-anchor="start" dominant-baseline="central" >ZnFe<tspan dy="2.13" font-size="4.94">2</tspan><tspan dy="-2.13">​</tspan>O<tspan dy="2.13" font-size="4.94">4</tspan><tspan dy="-2.13">​</tspan></text>
<text x="556.2" y="670.1" font-size="6.4" dominant-baseline="central" fill="#d9302c">CsPbBr<tspan dy="1.8" font-size="4.2">3</tspan><tspan dy="-1.8" font-weight="bold"> (2023)</tspan><tspan fill="#000" font-size="7"> #</tspan></text>
<text x="556.2" y="685.9" font-size="6.4" dominant-baseline="central" fill="#d9302c">CsPbBr<tspan dy="1.8" font-size="4.2">3</tspan><tspan dy="-1.8" font-weight="bold"> (2019)</tspan><tspan fill="#000" font-size="7"> #</tspan></text>
<text x="436.80" y="656.20" font-size="6.3" fill="#d9302c" text-anchor="start" dominant-baseline="central" >FA<tspan dy="1.76" font-size="4.09">0.80</tspan><tspan dy="-1.76">​</tspan>MA<tspan dy="1.76" font-size="4.09">0.15</tspan><tspan dy="-1.76">​</tspan>Ca<tspan dy="1.76" font-size="4.09">0.05</tspan><tspan dy="-1.76">​</tspan>PbI<tspan dy="1.76" font-size="4.09">2.55</tspan><tspan dy="-1.76">​</tspan>Br<tspan dy="1.76" font-size="4.09">0.4</tspan><tspan dy="-1.76">​</tspan></text>
<text x="390.90" y="666.60" font-size="6.3" fill="#d9302c" text-anchor="start" dominant-baseline="central" >FA<tspan dy="1.76" font-size="4.09">0.93</tspan><tspan dy="-1.76">​</tspan>MA<tspan dy="1.76" font-size="4.09">0.07</tspan><tspan dy="-1.76">​</tspan>PbI<tspan dy="1.76" font-size="4.09">3</tspan><tspan dy="-1.76">​</tspan></text>
<text x="458.80" y="666.60" font-size="6.3" fill="#d9302c" text-anchor="start" dominant-baseline="central" >FA<tspan dy="1.76" font-size="4.09">0.83</tspan><tspan dy="-1.76">​</tspan>Cs<tspan dy="1.76" font-size="4.09">0.17</tspan><tspan dy="-1.76">​</tspan>Pb(I<tspan dy="1.76" font-size="4.09">0.8</tspan><tspan dy="-1.76">​</tspan>Br<tspan dy="1.76" font-size="4.09">0.2</tspan><tspan dy="-1.76">​</tspan>)<tspan dy="1.76" font-size="4.09">3</tspan><tspan dy="-1.76">​</tspan></text>
<text x="416.00" y="679.20" font-size="6.3" fill="#d9302c" text-anchor="start" dominant-baseline="central" >MAPbI<tspan dy="1.76" font-size="4.09">3</tspan><tspan dy="-1.76">​</tspan></text>
<text x="416.00" y="689.00" font-size="6.3" fill="#d9302c" text-anchor="start" dominant-baseline="central" >MAPbI<tspan dy="1.76" font-size="4.09">3</tspan><tspan dy="-1.76">​</tspan></text>
<text x="432.60" y="697.60" font-size="6.3" fill="#d9302c" text-anchor="start" dominant-baseline="central" >FA<tspan dy="1.76" font-size="4.09">0.93</tspan><tspan dy="-1.76">​</tspan>MA<tspan dy="1.76" font-size="4.09">0.07</tspan><tspan dy="-1.76">​</tspan>PbI<tspan dy="1.76" font-size="4.09">3</tspan><tspan dy="-1.76">​</tspan></text>
<text x="375.70" y="727.00" font-size="7" fill="#000" text-anchor="start" dominant-baseline="central" >#</text>
<text x="380.50" y="727.00" font-size="6.3" fill="#d9302c" text-anchor="start" dominant-baseline="central" >(5-AVA)<tspan dy="1.76" font-size="4.09">x</tspan><tspan dy="-1.76">​</tspan>(MA)<tspan dy="1.76" font-size="4.09">1-x</tspan><tspan dy="-1.76">​</tspan>PbI<tspan dy="1.76" font-size="4.09">3</tspan><tspan dy="-1.76">​</tspan></text>
<circle cx="549.60" cy="721.10" r="3.0" fill="#000" />
<text x="561.90" y="721.40" font-size="8.25" fill="#000" text-anchor="start" dominant-baseline="central" >PV cell</text>
<circle cx="549.60" cy="731.30" r="3.0" fill="#4a7cc4" />
<text x="561.90" y="731.60" font-size="8.25" fill="#000" text-anchor="start" dominant-baseline="central" >PEC photoanode</text>
<circle cx="549.60" cy="741.40" r="3.0" fill="#d9302c" />
<text x="561.90" y="741.70" font-size="8.25" fill="#000" text-anchor="start" dominant-baseline="central" >Perovskite photoanode</text>
<circle cx="549.60" cy="751.40" r="3.0" fill="#8a00f0" />
<text x="561.90" y="751.70" font-size="8.25" fill="#000" text-anchor="start" dominant-baseline="central" >BHJ photoanode</text>
<rect x="371.00" y="546.10" width="277.50" height="210.40" fill="none" stroke="#000" stroke-width="1.1"/>
<line x1="371.00" y1="756.50" x2="371.00" y2="760.50" stroke="#000" stroke-width="1.1" />
<line x1="440.38" y1="756.50" x2="440.38" y2="760.50" stroke="#000" stroke-width="1.1" />
<line x1="509.75" y1="756.50" x2="509.75" y2="760.50" stroke="#000" stroke-width="1.1" />
<line x1="579.12" y1="756.50" x2="579.12" y2="760.50" stroke="#000" stroke-width="1.1" />
<line x1="648.50" y1="756.50" x2="648.50" y2="760.50" stroke="#000" stroke-width="1.1" />
<line x1="384.88" y1="756.50" x2="384.88" y2="758.70" stroke="#000" stroke-width="1.1" />
<line x1="398.75" y1="756.50" x2="398.75" y2="758.70" stroke="#000" stroke-width="1.1" />
<line x1="412.62" y1="756.50" x2="412.62" y2="758.70" stroke="#000" stroke-width="1.1" />
<line x1="426.50" y1="756.50" x2="426.50" y2="758.70" stroke="#000" stroke-width="1.1" />
<line x1="454.25" y1="756.50" x2="454.25" y2="758.70" stroke="#000" stroke-width="1.1" />
<line x1="468.12" y1="756.50" x2="468.12" y2="758.70" stroke="#000" stroke-width="1.1" />
<line x1="482.00" y1="756.50" x2="482.00" y2="758.70" stroke="#000" stroke-width="1.1" />
<line x1="495.88" y1="756.50" x2="495.88" y2="758.70" stroke="#000" stroke-width="1.1" />
<line x1="523.62" y1="756.50" x2="523.62" y2="758.70" stroke="#000" stroke-width="1.1" />
<line x1="537.50" y1="756.50" x2="537.50" y2="758.70" stroke="#000" stroke-width="1.1" />
<line x1="551.38" y1="756.50" x2="551.38" y2="758.70" stroke="#000" stroke-width="1.1" />
<line x1="565.25" y1="756.50" x2="565.25" y2="758.70" stroke="#000" stroke-width="1.1" />
<line x1="593.00" y1="756.50" x2="593.00" y2="758.70" stroke="#000" stroke-width="1.1" />
<line x1="606.88" y1="756.50" x2="606.88" y2="758.70" stroke="#000" stroke-width="1.1" />
<line x1="620.75" y1="756.50" x2="620.75" y2="758.70" stroke="#000" stroke-width="1.1" />
<line x1="634.62" y1="756.50" x2="634.62" y2="758.70" stroke="#000" stroke-width="1.1" />
<text x="371.00" y="769.60" font-size="13.4" fill="#000" text-anchor="middle" font-weight="bold" dominant-baseline="central" >1.0</text>
<text x="440.38" y="769.60" font-size="13.4" fill="#000" text-anchor="middle" font-weight="bold" dominant-baseline="central" >1.5</text>
<text x="509.75" y="769.60" font-size="13.4" fill="#000" text-anchor="middle" font-weight="bold" dominant-baseline="central" >2.0</text>
<text x="579.12" y="769.60" font-size="13.4" fill="#000" text-anchor="middle" font-weight="bold" dominant-baseline="central" >2.5</text>
<text x="648.50" y="769.60" font-size="13.4" fill="#000" text-anchor="middle" font-weight="bold" dominant-baseline="central" >3.0</text>
<line x1="371.00" y1="756.50" x2="367.00" y2="756.50" stroke="#000" stroke-width="1.1" />
<line x1="371.00" y1="703.90" x2="367.00" y2="703.90" stroke="#000" stroke-width="1.1" />
<line x1="371.00" y1="651.30" x2="367.00" y2="651.30" stroke="#000" stroke-width="1.1" />
<line x1="371.00" y1="598.70" x2="367.00" y2="598.70" stroke="#000" stroke-width="1.1" />
<line x1="371.00" y1="546.10" x2="367.00" y2="546.10" stroke="#000" stroke-width="1.1" />
<line x1="371.00" y1="745.98" x2="368.80" y2="745.98" stroke="#000" stroke-width="1.1" />
<line x1="371.00" y1="735.46" x2="368.80" y2="735.46" stroke="#000" stroke-width="1.1" />
<line x1="371.00" y1="724.94" x2="368.80" y2="724.94" stroke="#000" stroke-width="1.1" />
<line x1="371.00" y1="714.42" x2="368.80" y2="714.42" stroke="#000" stroke-width="1.1" />
<line x1="371.00" y1="693.38" x2="368.80" y2="693.38" stroke="#000" stroke-width="1.1" />
<line x1="371.00" y1="682.86" x2="368.80" y2="682.86" stroke="#000" stroke-width="1.1" />
<line x1="371.00" y1="672.34" x2="368.80" y2="672.34" stroke="#000" stroke-width="1.1" />
<line x1="371.00" y1="661.82" x2="368.80" y2="661.82" stroke="#000" stroke-width="1.1" />
<line x1="371.00" y1="640.78" x2="368.80" y2="640.78" stroke="#000" stroke-width="1.1" />
<line x1="371.00" y1="630.26" x2="368.80" y2="630.26" stroke="#000" stroke-width="1.1" />
<line x1="371.00" y1="619.74" x2="368.80" y2="619.74" stroke="#000" stroke-width="1.1" />
<line x1="371.00" y1="609.22" x2="368.80" y2="609.22" stroke="#000" stroke-width="1.1" />
<line x1="371.00" y1="588.18" x2="368.80" y2="588.18" stroke="#000" stroke-width="1.1" />
<line x1="371.00" y1="577.66" x2="368.80" y2="577.66" stroke="#000" stroke-width="1.1" />
<line x1="371.00" y1="567.14" x2="368.80" y2="567.14" stroke="#000" stroke-width="1.1" />
<line x1="371.00" y1="556.62" x2="368.80" y2="556.62" stroke="#000" stroke-width="1.1" />
<text x="363.90" y="756.50" font-size="13.4" fill="#000" text-anchor="end" font-weight="bold" dominant-baseline="central" >0.0</text>
<text x="363.90" y="703.90" font-size="13.4" fill="#000" text-anchor="end" font-weight="bold" dominant-baseline="central" >0.5</text>
<text x="363.90" y="651.30" font-size="13.4" fill="#000" text-anchor="end" font-weight="bold" dominant-baseline="central" >1.0</text>
<text x="363.90" y="598.70" font-size="13.4" fill="#000" text-anchor="end" font-weight="bold" dominant-baseline="central" >1.5</text>
<text x="363.90" y="546.10" font-size="13.4" fill="#000" text-anchor="end" font-weight="bold" dominant-baseline="central" >2.0</text>
<line x1="371.00" y1="546.10" x2="371.00" y2="550.10" stroke="#000" stroke-width="1.1" />
<line x1="648.50" y1="756.50" x2="644.50" y2="756.50" stroke="#000" stroke-width="1.1" />
<line x1="384.88" y1="546.10" x2="384.88" y2="548.30" stroke="#000" stroke-width="1.1" />
<line x1="648.50" y1="745.98" x2="646.30" y2="745.98" stroke="#000" stroke-width="1.1" />
<line x1="398.75" y1="546.10" x2="398.75" y2="548.30" stroke="#000" stroke-width="1.1" />
<line x1="648.50" y1="735.46" x2="646.30" y2="735.46" stroke="#000" stroke-width="1.1" />
<line x1="412.62" y1="546.10" x2="412.62" y2="548.30" stroke="#000" stroke-width="1.1" />
<line x1="648.50" y1="724.94" x2="646.30" y2="724.94" stroke="#000" stroke-width="1.1" />
<line x1="426.50" y1="546.10" x2="426.50" y2="548.30" stroke="#000" stroke-width="1.1" />
<line x1="648.50" y1="714.42" x2="646.30" y2="714.42" stroke="#000" stroke-width="1.1" />
<line x1="440.38" y1="546.10" x2="440.38" y2="550.10" stroke="#000" stroke-width="1.1" />
<line x1="648.50" y1="703.90" x2="644.50" y2="703.90" stroke="#000" stroke-width="1.1" />
<line x1="454.25" y1="546.10" x2="454.25" y2="548.30" stroke="#000" stroke-width="1.1" />
<line x1="648.50" y1="693.38" x2="646.30" y2="693.38" stroke="#000" stroke-width="1.1" />
<line x1="468.12" y1="546.10" x2="468.12" y2="548.30" stroke="#000" stroke-width="1.1" />
<line x1="648.50" y1="682.86" x2="646.30" y2="682.86" stroke="#000" stroke-width="1.1" />
<line x1="482.00" y1="546.10" x2="482.00" y2="548.30" stroke="#000" stroke-width="1.1" />
<line x1="648.50" y1="672.34" x2="646.30" y2="672.34" stroke="#000" stroke-width="1.1" />
<line x1="495.88" y1="546.10" x2="495.88" y2="548.30" stroke="#000" stroke-width="1.1" />
<line x1="648.50" y1="661.82" x2="646.30" y2="661.82" stroke="#000" stroke-width="1.1" />
<line x1="509.75" y1="546.10" x2="509.75" y2="550.10" stroke="#000" stroke-width="1.1" />
<line x1="648.50" y1="651.30" x2="644.50" y2="651.30" stroke="#000" stroke-width="1.1" />
<line x1="523.62" y1="546.10" x2="523.62" y2="548.30" stroke="#000" stroke-width="1.1" />
<line x1="648.50" y1="640.78" x2="646.30" y2="640.78" stroke="#000" stroke-width="1.1" />
<line x1="537.50" y1="546.10" x2="537.50" y2="548.30" stroke="#000" stroke-width="1.1" />
<line x1="648.50" y1="630.26" x2="646.30" y2="630.26" stroke="#000" stroke-width="1.1" />
<line x1="551.38" y1="546.10" x2="551.38" y2="548.30" stroke="#000" stroke-width="1.1" />
<line x1="648.50" y1="619.74" x2="646.30" y2="619.74" stroke="#000" stroke-width="1.1" />
<line x1="565.25" y1="546.10" x2="565.25" y2="548.30" stroke="#000" stroke-width="1.1" />
<line x1="648.50" y1="609.22" x2="646.30" y2="609.22" stroke="#000" stroke-width="1.1" />
<line x1="579.12" y1="546.10" x2="579.12" y2="550.10" stroke="#000" stroke-width="1.1" />
<line x1="648.50" y1="598.70" x2="644.50" y2="598.70" stroke="#000" stroke-width="1.1" />
<line x1="593.00" y1="546.10" x2="593.00" y2="548.30" stroke="#000" stroke-width="1.1" />
<line x1="648.50" y1="588.18" x2="646.30" y2="588.18" stroke="#000" stroke-width="1.1" />
<line x1="606.88" y1="546.10" x2="606.88" y2="548.30" stroke="#000" stroke-width="1.1" />
<line x1="648.50" y1="577.66" x2="646.30" y2="577.66" stroke="#000" stroke-width="1.1" />
<line x1="620.75" y1="546.10" x2="620.75" y2="548.30" stroke="#000" stroke-width="1.1" />
<line x1="648.50" y1="567.14" x2="646.30" y2="567.14" stroke="#000" stroke-width="1.1" />
<line x1="634.62" y1="546.10" x2="634.62" y2="548.30" stroke="#000" stroke-width="1.1" />
<line x1="648.50" y1="556.62" x2="646.30" y2="556.62" stroke="#000" stroke-width="1.1" />
<line x1="648.50" y1="546.10" x2="648.50" y2="550.10" stroke="#000" stroke-width="1.1" />
<line x1="648.50" y1="546.10" x2="644.50" y2="546.10" stroke="#000" stroke-width="1.1" />
<text x="509.70" y="789.90" font-size="13.4" fill="#000" text-anchor="middle" font-weight="bold" dominant-baseline="central" >Band gap (eV)</text>
<text x="336.10" y="651.10" font-size="13.4" fill="#000" text-anchor="middle" font-weight="bold" dominant-baseline="central" transform="rotate(-90 336.10 651.10)" >Photovoltage (V)</text>
</svg>
</body></html>
